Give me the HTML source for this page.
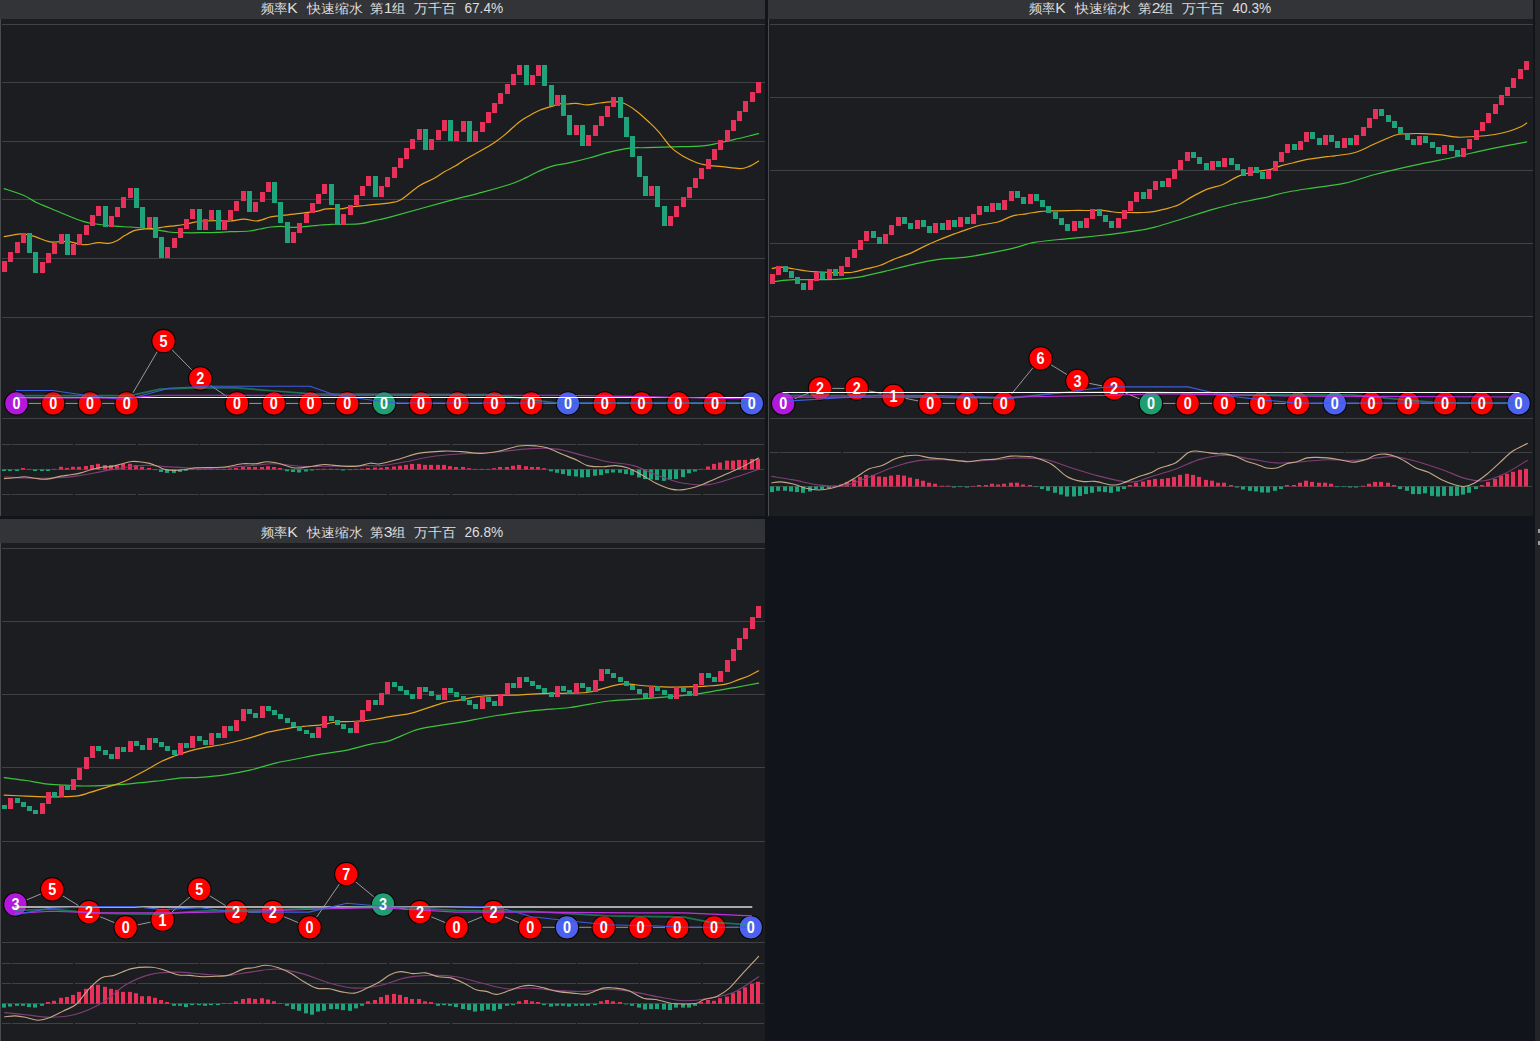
<!DOCTYPE html>
<html><head><meta charset="utf-8"><style>html,body{margin:0;padding:0;background:#11151b;width:1540px;height:1041px;overflow:hidden}svg{display:block}</style></head>
<body><svg width="1540" height="1041" viewBox="0 0 1540 1041">
<style>text{font-family:"Liberation Sans",sans-serif;font-size:14px;fill:#ececec}.t{font-size:13.4px;fill:#dedede}.n{font-size:15.2px}.d{font-weight:bold;font-size:16.4px;fill:#fff;text-anchor:middle}</style>
<rect x="0.00" y="0.00" width="1540.00" height="1041.00" fill="#11151b"/>
<rect x="1535.00" y="0.00" width="5.00" height="1041.00" fill="#232428"/>
<rect x="0.00" y="0.00" width="765.00" height="516.00" fill="#1c1d21"/>
<rect x="0.00" y="0.00" width="765.00" height="19.00" fill="#333438"/>
<rect x="768.00" y="0.00" width="765.00" height="516.00" fill="#1c1d21"/>
<rect x="768.00" y="0.00" width="765.00" height="19.00" fill="#333438"/>
<rect x="0.00" y="519.00" width="765.00" height="522.00" fill="#1c1d21"/>
<rect x="0.00" y="519.00" width="765.00" height="24.00" fill="#333438"/>
<line x1="0.5" y1="19" x2="0.5" y2="516" stroke="#4a4b4f" stroke-width="1"/>
<line x1="768.5" y1="19" x2="768.5" y2="516" stroke="#4a4b4f" stroke-width="1"/>
<line x1="0.5" y1="543" x2="0.5" y2="1041" stroke="#4a4b4f" stroke-width="1"/>
<text class="t" x="260.5" y="13.3" textLength="37.3" lengthAdjust="spacingAndGlyphs">频率<tspan class="n">K</tspan></text>
<text class="t" x="306.5" y="13.3" textLength="56" lengthAdjust="spacingAndGlyphs">快速缩水</text>
<text class="t" x="370.2" y="13.3" textLength="35.8" lengthAdjust="spacingAndGlyphs">第<tspan class="n">1</tspan>组</text>
<text class="t" x="414.0" y="13.3" textLength="42" lengthAdjust="spacingAndGlyphs">万千百</text>
<text class="t" x="464.4" y="13.3" textLength="38.8" lengthAdjust="spacingAndGlyphs"><tspan class="n">67.4%</tspan></text>
<text class="t" x="1028.5" y="13.3" textLength="37.3" lengthAdjust="spacingAndGlyphs">频率<tspan class="n">K</tspan></text>
<text class="t" x="1074.5" y="13.3" textLength="56" lengthAdjust="spacingAndGlyphs">快速缩水</text>
<text class="t" x="1138.2" y="13.3" textLength="35.8" lengthAdjust="spacingAndGlyphs">第<tspan class="n">2</tspan>组</text>
<text class="t" x="1182.0" y="13.3" textLength="42" lengthAdjust="spacingAndGlyphs">万千百</text>
<text class="t" x="1232.4" y="13.3" textLength="38.8" lengthAdjust="spacingAndGlyphs"><tspan class="n">40.3%</tspan></text>
<text class="t" x="260.5" y="537.3" textLength="37.3" lengthAdjust="spacingAndGlyphs">频率<tspan class="n">K</tspan></text>
<text class="t" x="306.5" y="537.3" textLength="56" lengthAdjust="spacingAndGlyphs">快速缩水</text>
<text class="t" x="370.2" y="537.3" textLength="35.8" lengthAdjust="spacingAndGlyphs">第<tspan class="n">3</tspan>组</text>
<text class="t" x="414.0" y="537.3" textLength="42" lengthAdjust="spacingAndGlyphs">万千百</text>
<text class="t" x="464.4" y="537.3" textLength="38.8" lengthAdjust="spacingAndGlyphs"><tspan class="n">26.8%</tspan></text>
<line x1="2" y1="24.5" x2="765" y2="24.5" stroke="#404145" stroke-width="1" shape-rendering="crispEdges"/>
<line x1="2" y1="82.5" x2="765" y2="82.5" stroke="#404145" stroke-width="1" shape-rendering="crispEdges"/>
<line x1="2" y1="141.5" x2="765" y2="141.5" stroke="#404145" stroke-width="1" shape-rendering="crispEdges"/>
<line x1="2" y1="199.5" x2="765" y2="199.5" stroke="#404145" stroke-width="1" shape-rendering="crispEdges"/>
<line x1="2" y1="258.5" x2="765" y2="258.5" stroke="#404145" stroke-width="1" shape-rendering="crispEdges"/>
<line x1="2" y1="317.5" x2="765" y2="317.5" stroke="#404145" stroke-width="1" shape-rendering="crispEdges"/>
<line x1="2" y1="418.5" x2="765" y2="418.5" stroke="#404145" stroke-width="1" shape-rendering="crispEdges"/>
<line x1="2" y1="444.5" x2="765" y2="444.5" stroke="#404145" stroke-width="1" stroke-dasharray="61.3 1.5" stroke-dashoffset="52.80" shape-rendering="crispEdges"/>
<line x1="2" y1="469.5" x2="765" y2="469.5" stroke="#404145" stroke-width="1" stroke-dasharray="61.3 1.5" stroke-dashoffset="52.80" shape-rendering="crispEdges"/>
<line x1="2" y1="494.5" x2="765" y2="494.5" stroke="#404145" stroke-width="1" stroke-dasharray="61.3 1.5" stroke-dashoffset="52.80" shape-rendering="crispEdges"/>
<path d="M4.2,188.6 C7.4,189.7 18.0,193.0 23.4,195.3 C28.8,197.6 31.6,200.2 36.4,202.5 C41.2,204.8 46.8,206.8 52.0,209.0 C57.2,211.2 62.3,213.4 67.5,215.5 C72.7,217.6 78.2,219.9 83.0,221.3 C87.8,222.7 90.8,223.2 96.0,224.0 C101.2,224.8 108.6,225.7 114.3,226.2 C120.0,226.7 125.1,226.7 129.9,227.0 C134.7,227.3 138.6,227.6 142.9,228.0 C147.2,228.4 151.5,229.0 155.8,229.7 C160.1,230.4 164.5,231.5 168.8,232.0 C173.1,232.5 176.6,232.6 181.8,232.7 C187.0,232.8 194.2,232.8 200.0,232.7 C205.8,232.6 211.8,232.6 216.9,232.4 C222.0,232.2 224.9,231.9 230.3,231.7 C235.7,231.5 244.2,231.4 249.2,231.0 C254.1,230.6 256.4,229.7 260.0,229.0 C263.6,228.3 267.1,227.4 270.7,227.0 C274.3,226.6 278.1,226.2 281.5,226.3 C284.9,226.4 287.1,227.2 290.9,227.3 C294.7,227.4 299.8,227.0 304.3,226.7 C308.8,226.4 313.3,225.7 317.8,225.3 C322.3,224.9 326.7,224.5 331.2,224.3 C335.7,224.1 339.8,224.4 344.7,224.3 C349.6,224.2 355.6,224.4 360.8,223.7 C366.0,223.0 370.7,221.4 375.6,220.3 C380.5,219.2 377.2,220.6 390.0,217.2 C402.8,213.8 437.8,203.7 452.4,199.8 C467.0,195.9 468.0,196.2 477.5,193.6 C487.0,191.0 501.4,187.2 509.5,184.5 C517.6,181.8 521.1,179.9 526.2,177.6 C531.3,175.3 535.6,172.6 540.2,170.6 C544.9,168.6 549.1,167.0 554.1,165.7 C559.1,164.4 564.2,164.0 570.0,162.7 C575.8,161.4 582.4,159.8 589.0,158.0 C595.6,156.2 602.7,153.8 609.6,152.1 C616.5,150.4 624.1,148.8 630.2,148.1 C636.3,147.4 639.2,147.9 646.1,147.7 C653.0,147.5 661.9,147.2 671.4,146.9 C680.9,146.6 695.2,146.5 703.1,145.8 C711.0,145.1 713.7,144.0 719.0,142.9 C724.3,141.8 728.2,140.9 734.8,139.4 C741.4,137.9 754.6,134.6 758.6,133.7" fill="none" stroke="#3cc43c" stroke-width="1.2" stroke-linejoin="round" stroke-linecap="round"/>
<path d="M4.2,236.6 C7.0,236.2 16.2,234.1 20.8,233.9 C25.4,233.7 27.3,234.3 31.8,235.6 C36.3,236.8 44.0,240.3 48.0,241.4 C52.0,242.5 52.5,242.0 55.8,242.0 C59.0,242.0 63.8,241.1 67.5,241.4 C71.2,241.7 75.0,243.2 78.0,243.8 C81.0,244.4 82.2,244.9 85.7,244.7 C89.2,244.5 94.8,242.9 98.7,242.7 C102.6,242.5 106.0,243.7 109.0,243.4 C112.0,243.1 114.3,242.1 116.9,240.8 C119.5,239.5 121.7,237.3 124.7,235.6 C127.7,233.9 131.5,231.5 135.0,230.4 C138.5,229.3 142.0,229.3 145.5,229.0 C149.0,228.7 152.8,228.7 155.8,228.4 C158.8,228.1 160.6,227.4 163.6,227.0 C166.6,226.6 170.5,226.2 174.0,225.8 C177.5,225.4 181.4,225.0 184.4,224.5 C187.4,224.0 189.0,223.2 192.2,222.6 C195.4,222.0 199.3,221.3 203.4,221.0 C207.5,220.7 212.4,220.6 216.9,220.6 C221.4,220.6 225.8,221.2 230.3,221.0 C234.8,220.8 239.5,219.2 243.8,219.2 C248.1,219.2 252.8,220.9 255.9,221.0 C259.0,221.1 260.1,220.3 262.6,219.6 C265.1,218.9 267.1,217.6 270.7,216.9 C274.3,216.2 278.4,215.9 284.0,215.2 C289.6,214.5 298.7,213.6 304.3,212.9 C309.9,212.2 314.4,211.7 317.8,211.1 C321.2,210.5 322.3,209.5 324.5,209.1 C326.7,208.7 328.5,208.6 331.2,208.6 C333.9,208.6 337.2,209.2 340.6,208.9 C344.0,208.6 347.4,207.4 351.4,206.8 C355.4,206.2 360.3,205.9 364.8,205.5 C369.3,205.1 374.1,204.5 378.3,204.1 C382.5,203.7 386.2,203.5 390.0,202.8 C393.8,202.1 396.1,202.6 400.9,199.8 C405.7,197.0 413.7,189.4 419.0,185.9 C424.3,182.4 428.7,181.3 432.9,179.0 C437.1,176.7 440.3,174.2 444.0,172.0 C447.7,169.8 451.9,168.0 455.2,166.1 C458.5,164.2 459.9,162.7 463.6,160.4 C467.3,158.1 472.4,155.4 477.5,152.5 C482.6,149.6 489.6,145.7 494.2,142.7 C498.8,139.7 501.1,137.9 505.3,134.4 C509.5,130.9 514.6,125.4 519.3,121.9 C523.9,118.4 529.7,115.5 533.2,113.5 C536.7,111.5 537.2,111.2 540.2,110.0 C543.2,108.8 547.8,107.5 551.3,106.5 C554.8,105.5 558.2,104.1 561.0,103.7 C563.8,103.3 565.5,104.1 568.0,104.0 C570.5,103.9 573.1,103.1 576.3,103.3 C579.5,103.5 583.4,105.0 587.4,104.9 C591.4,104.9 595.6,103.5 600.1,103.0 C604.6,102.5 610.4,101.7 614.4,101.7 C618.4,101.8 620.2,101.7 623.9,103.3 C627.6,104.9 632.4,108.0 636.6,111.2 C640.8,114.4 645.5,118.9 649.2,122.3 C652.9,125.7 655.0,127.6 658.7,131.8 C662.4,136.0 667.2,143.5 671.4,147.7 C675.6,151.9 679.9,154.3 684.1,156.8 C688.3,159.3 693.1,161.3 696.8,162.7 C700.5,164.1 702.1,164.4 706.3,165.1 C710.5,165.8 716.5,166.1 722.1,166.7 C727.7,167.3 735.1,168.6 739.6,168.6 C744.1,168.6 745.9,167.7 749.1,166.4 C752.3,165.2 757.0,162.0 758.6,161.1" fill="none" stroke="#e6a41c" stroke-width="1.2" stroke-linejoin="round" stroke-linecap="round"/>
<rect x="2.00" y="261.00" width="5.00" height="11.00" fill="#e8315a" shape-rendering="crispEdges"/>
<rect x="8.00" y="252.00" width="5.00" height="10.00" fill="#e8315a" shape-rendering="crispEdges"/>
<rect x="15.00" y="242.00" width="5.00" height="11.00" fill="#e8315a" shape-rendering="crispEdges"/>
<rect x="21.00" y="233.00" width="5.00" height="10.00" fill="#e8315a" shape-rendering="crispEdges"/>
<rect x="27.00" y="233.00" width="5.00" height="20.00" fill="#1fa37a" shape-rendering="crispEdges"/>
<rect x="33.00" y="252.00" width="5.00" height="21.00" fill="#1fa37a" shape-rendering="crispEdges"/>
<rect x="40.00" y="262.00" width="5.00" height="11.00" fill="#e8315a" shape-rendering="crispEdges"/>
<rect x="46.00" y="253.00" width="5.00" height="10.00" fill="#e8315a" shape-rendering="crispEdges"/>
<rect x="52.00" y="243.00" width="5.00" height="11.00" fill="#e8315a" shape-rendering="crispEdges"/>
<rect x="59.00" y="234.00" width="5.00" height="10.00" fill="#e8315a" shape-rendering="crispEdges"/>
<rect x="65.00" y="234.00" width="5.00" height="21.00" fill="#1fa37a" shape-rendering="crispEdges"/>
<rect x="71.00" y="244.00" width="5.00" height="11.00" fill="#e8315a" shape-rendering="crispEdges"/>
<rect x="77.00" y="234.00" width="5.00" height="11.00" fill="#e8315a" shape-rendering="crispEdges"/>
<rect x="84.00" y="225.00" width="5.00" height="10.00" fill="#e8315a" shape-rendering="crispEdges"/>
<rect x="90.00" y="215.00" width="5.00" height="11.00" fill="#e8315a" shape-rendering="crispEdges"/>
<rect x="96.00" y="206.00" width="5.00" height="10.00" fill="#e8315a" shape-rendering="crispEdges"/>
<rect x="103.00" y="206.00" width="5.00" height="21.00" fill="#1fa37a" shape-rendering="crispEdges"/>
<rect x="109.00" y="216.00" width="5.00" height="11.00" fill="#e8315a" shape-rendering="crispEdges"/>
<rect x="115.00" y="207.00" width="5.00" height="10.00" fill="#e8315a" shape-rendering="crispEdges"/>
<rect x="121.00" y="197.00" width="5.00" height="11.00" fill="#e8315a" shape-rendering="crispEdges"/>
<rect x="128.00" y="188.00" width="5.00" height="10.00" fill="#e8315a" shape-rendering="crispEdges"/>
<rect x="134.00" y="188.00" width="5.00" height="20.00" fill="#1fa37a" shape-rendering="crispEdges"/>
<rect x="140.00" y="207.00" width="5.00" height="21.00" fill="#1fa37a" shape-rendering="crispEdges"/>
<rect x="147.00" y="217.00" width="5.00" height="11.00" fill="#e8315a" shape-rendering="crispEdges"/>
<rect x="153.00" y="217.00" width="5.00" height="21.00" fill="#1fa37a" shape-rendering="crispEdges"/>
<rect x="159.00" y="237.00" width="5.00" height="21.00" fill="#1fa37a" shape-rendering="crispEdges"/>
<rect x="165.00" y="247.00" width="5.00" height="11.00" fill="#e8315a" shape-rendering="crispEdges"/>
<rect x="172.00" y="238.00" width="5.00" height="10.00" fill="#e8315a" shape-rendering="crispEdges"/>
<rect x="178.00" y="228.00" width="5.00" height="10.00" fill="#e8315a" shape-rendering="crispEdges"/>
<rect x="184.00" y="219.00" width="5.00" height="10.00" fill="#e8315a" shape-rendering="crispEdges"/>
<rect x="190.00" y="209.00" width="5.00" height="10.00" fill="#e8315a" shape-rendering="crispEdges"/>
<rect x="197.00" y="209.00" width="5.00" height="21.00" fill="#1fa37a" shape-rendering="crispEdges"/>
<rect x="203.00" y="219.00" width="5.00" height="11.00" fill="#e8315a" shape-rendering="crispEdges"/>
<rect x="209.00" y="210.00" width="5.00" height="10.00" fill="#e8315a" shape-rendering="crispEdges"/>
<rect x="216.00" y="210.00" width="5.00" height="20.00" fill="#1fa37a" shape-rendering="crispEdges"/>
<rect x="222.00" y="220.00" width="5.00" height="10.00" fill="#e8315a" shape-rendering="crispEdges"/>
<rect x="228.00" y="210.00" width="5.00" height="10.00" fill="#e8315a" shape-rendering="crispEdges"/>
<rect x="234.00" y="201.00" width="5.00" height="10.00" fill="#e8315a" shape-rendering="crispEdges"/>
<rect x="241.00" y="191.00" width="5.00" height="10.00" fill="#e8315a" shape-rendering="crispEdges"/>
<rect x="247.00" y="191.00" width="5.00" height="21.00" fill="#1fa37a" shape-rendering="crispEdges"/>
<rect x="253.00" y="202.00" width="5.00" height="10.00" fill="#e8315a" shape-rendering="crispEdges"/>
<rect x="260.00" y="192.00" width="5.00" height="10.00" fill="#e8315a" shape-rendering="crispEdges"/>
<rect x="266.00" y="182.00" width="5.00" height="10.00" fill="#e8315a" shape-rendering="crispEdges"/>
<rect x="272.00" y="182.00" width="5.00" height="21.00" fill="#1fa37a" shape-rendering="crispEdges"/>
<rect x="278.00" y="202.00" width="5.00" height="21.00" fill="#1fa37a" shape-rendering="crispEdges"/>
<rect x="285.00" y="222.00" width="5.00" height="21.00" fill="#1fa37a" shape-rendering="crispEdges"/>
<rect x="291.00" y="232.00" width="5.00" height="11.00" fill="#e8315a" shape-rendering="crispEdges"/>
<rect x="297.00" y="223.00" width="5.00" height="10.00" fill="#e8315a" shape-rendering="crispEdges"/>
<rect x="304.00" y="213.00" width="5.00" height="10.00" fill="#e8315a" shape-rendering="crispEdges"/>
<rect x="310.00" y="203.00" width="5.00" height="10.00" fill="#e8315a" shape-rendering="crispEdges"/>
<rect x="316.00" y="194.00" width="5.00" height="10.00" fill="#e8315a" shape-rendering="crispEdges"/>
<rect x="322.00" y="184.00" width="5.00" height="10.00" fill="#e8315a" shape-rendering="crispEdges"/>
<rect x="329.00" y="184.00" width="5.00" height="21.00" fill="#1fa37a" shape-rendering="crispEdges"/>
<rect x="335.00" y="204.00" width="5.00" height="21.00" fill="#1fa37a" shape-rendering="crispEdges"/>
<rect x="341.00" y="214.00" width="5.00" height="11.00" fill="#e8315a" shape-rendering="crispEdges"/>
<rect x="348.00" y="205.00" width="5.00" height="10.00" fill="#e8315a" shape-rendering="crispEdges"/>
<rect x="354.00" y="195.00" width="5.00" height="10.00" fill="#e8315a" shape-rendering="crispEdges"/>
<rect x="360.00" y="186.00" width="5.00" height="10.00" fill="#e8315a" shape-rendering="crispEdges"/>
<rect x="366.00" y="176.00" width="5.00" height="10.00" fill="#e8315a" shape-rendering="crispEdges"/>
<rect x="373.00" y="176.00" width="5.00" height="21.00" fill="#1fa37a" shape-rendering="crispEdges"/>
<rect x="379.00" y="186.00" width="5.00" height="11.00" fill="#e8315a" shape-rendering="crispEdges"/>
<rect x="385.00" y="177.00" width="5.00" height="10.00" fill="#e8315a" shape-rendering="crispEdges"/>
<rect x="392.00" y="167.00" width="5.00" height="11.00" fill="#e8315a" shape-rendering="crispEdges"/>
<rect x="398.00" y="158.00" width="5.00" height="10.00" fill="#e8315a" shape-rendering="crispEdges"/>
<rect x="404.00" y="148.00" width="5.00" height="11.00" fill="#e8315a" shape-rendering="crispEdges"/>
<rect x="410.00" y="139.00" width="5.00" height="10.00" fill="#e8315a" shape-rendering="crispEdges"/>
<rect x="417.00" y="129.00" width="5.00" height="11.00" fill="#e8315a" shape-rendering="crispEdges"/>
<rect x="423.00" y="129.00" width="5.00" height="21.00" fill="#1fa37a" shape-rendering="crispEdges"/>
<rect x="429.00" y="139.00" width="5.00" height="11.00" fill="#e8315a" shape-rendering="crispEdges"/>
<rect x="436.00" y="130.00" width="5.00" height="10.00" fill="#e8315a" shape-rendering="crispEdges"/>
<rect x="442.00" y="120.00" width="5.00" height="11.00" fill="#e8315a" shape-rendering="crispEdges"/>
<rect x="448.00" y="120.00" width="5.00" height="21.00" fill="#1fa37a" shape-rendering="crispEdges"/>
<rect x="454.00" y="131.00" width="5.00" height="10.00" fill="#e8315a" shape-rendering="crispEdges"/>
<rect x="461.00" y="121.00" width="5.00" height="11.00" fill="#e8315a" shape-rendering="crispEdges"/>
<rect x="467.00" y="121.00" width="5.00" height="21.00" fill="#1fa37a" shape-rendering="crispEdges"/>
<rect x="473.00" y="131.00" width="5.00" height="11.00" fill="#e8315a" shape-rendering="crispEdges"/>
<rect x="480.00" y="122.00" width="5.00" height="10.00" fill="#e8315a" shape-rendering="crispEdges"/>
<rect x="486.00" y="112.00" width="5.00" height="11.00" fill="#e8315a" shape-rendering="crispEdges"/>
<rect x="492.00" y="103.00" width="5.00" height="10.00" fill="#e8315a" shape-rendering="crispEdges"/>
<rect x="498.00" y="93.00" width="5.00" height="11.00" fill="#e8315a" shape-rendering="crispEdges"/>
<rect x="505.00" y="84.00" width="5.00" height="10.00" fill="#e8315a" shape-rendering="crispEdges"/>
<rect x="511.00" y="74.00" width="5.00" height="11.00" fill="#e8315a" shape-rendering="crispEdges"/>
<rect x="517.00" y="65.00" width="5.00" height="10.00" fill="#e8315a" shape-rendering="crispEdges"/>
<rect x="524.00" y="65.00" width="5.00" height="20.00" fill="#1fa37a" shape-rendering="crispEdges"/>
<rect x="530.00" y="75.00" width="5.00" height="10.00" fill="#e8315a" shape-rendering="crispEdges"/>
<rect x="536.00" y="65.00" width="5.00" height="11.00" fill="#e8315a" shape-rendering="crispEdges"/>
<rect x="542.00" y="65.00" width="5.00" height="21.00" fill="#1fa37a" shape-rendering="crispEdges"/>
<rect x="549.00" y="85.00" width="5.00" height="21.00" fill="#1fa37a" shape-rendering="crispEdges"/>
<rect x="555.00" y="95.00" width="5.00" height="11.00" fill="#e8315a" shape-rendering="crispEdges"/>
<rect x="561.00" y="95.00" width="5.00" height="21.00" fill="#1fa37a" shape-rendering="crispEdges"/>
<rect x="567.00" y="115.00" width="5.00" height="20.00" fill="#1fa37a" shape-rendering="crispEdges"/>
<rect x="574.00" y="125.00" width="5.00" height="10.00" fill="#e8315a" shape-rendering="crispEdges"/>
<rect x="580.00" y="125.00" width="5.00" height="21.00" fill="#1fa37a" shape-rendering="crispEdges"/>
<rect x="586.00" y="135.00" width="5.00" height="11.00" fill="#e8315a" shape-rendering="crispEdges"/>
<rect x="593.00" y="125.00" width="5.00" height="11.00" fill="#e8315a" shape-rendering="crispEdges"/>
<rect x="599.00" y="116.00" width="5.00" height="10.00" fill="#e8315a" shape-rendering="crispEdges"/>
<rect x="605.00" y="106.00" width="5.00" height="11.00" fill="#e8315a" shape-rendering="crispEdges"/>
<rect x="611.00" y="97.00" width="5.00" height="10.00" fill="#e8315a" shape-rendering="crispEdges"/>
<rect x="618.00" y="97.00" width="5.00" height="21.00" fill="#1fa37a" shape-rendering="crispEdges"/>
<rect x="624.00" y="117.00" width="5.00" height="20.00" fill="#1fa37a" shape-rendering="crispEdges"/>
<rect x="630.00" y="136.00" width="5.00" height="21.00" fill="#1fa37a" shape-rendering="crispEdges"/>
<rect x="637.00" y="156.00" width="5.00" height="21.00" fill="#1fa37a" shape-rendering="crispEdges"/>
<rect x="643.00" y="176.00" width="5.00" height="20.00" fill="#1fa37a" shape-rendering="crispEdges"/>
<rect x="649.00" y="186.00" width="5.00" height="10.00" fill="#e8315a" shape-rendering="crispEdges"/>
<rect x="655.00" y="186.00" width="5.00" height="21.00" fill="#1fa37a" shape-rendering="crispEdges"/>
<rect x="662.00" y="206.00" width="5.00" height="20.00" fill="#1fa37a" shape-rendering="crispEdges"/>
<rect x="668.00" y="216.00" width="5.00" height="10.00" fill="#e8315a" shape-rendering="crispEdges"/>
<rect x="674.00" y="206.00" width="5.00" height="11.00" fill="#e8315a" shape-rendering="crispEdges"/>
<rect x="681.00" y="197.00" width="5.00" height="10.00" fill="#e8315a" shape-rendering="crispEdges"/>
<rect x="687.00" y="187.00" width="5.00" height="11.00" fill="#e8315a" shape-rendering="crispEdges"/>
<rect x="693.00" y="178.00" width="5.00" height="10.00" fill="#e8315a" shape-rendering="crispEdges"/>
<rect x="699.00" y="168.00" width="5.00" height="11.00" fill="#e8315a" shape-rendering="crispEdges"/>
<rect x="706.00" y="159.00" width="5.00" height="10.00" fill="#e8315a" shape-rendering="crispEdges"/>
<rect x="712.00" y="149.00" width="5.00" height="11.00" fill="#e8315a" shape-rendering="crispEdges"/>
<rect x="718.00" y="140.00" width="5.00" height="10.00" fill="#e8315a" shape-rendering="crispEdges"/>
<rect x="725.00" y="130.00" width="5.00" height="11.00" fill="#e8315a" shape-rendering="crispEdges"/>
<rect x="731.00" y="120.00" width="5.00" height="11.00" fill="#e8315a" shape-rendering="crispEdges"/>
<rect x="737.00" y="111.00" width="5.00" height="10.00" fill="#e8315a" shape-rendering="crispEdges"/>
<rect x="743.00" y="101.00" width="5.00" height="11.00" fill="#e8315a" shape-rendering="crispEdges"/>
<rect x="750.00" y="92.00" width="5.00" height="10.00" fill="#e8315a" shape-rendering="crispEdges"/>
<rect x="756.00" y="82.00" width="5.00" height="11.00" fill="#e8315a" shape-rendering="crispEdges"/>
<polyline points="16.4,403.4 53.2,403.4 89.9,403.4 126.7,403.4 163.5,341.1 200.3,378.5 237.0,403.4 273.8,403.4 310.6,403.4 347.3,403.4 384.1,403.4 420.9,403.4 457.6,403.4 494.4,403.4 531.2,403.4 568.0,403.4 604.7,403.4 641.5,403.4 678.3,403.4 715.0,403.4 751.8,403.4" fill="none" stroke="#9a9a9a" stroke-width="1" stroke-linejoin="round" stroke-linecap="round"/>
<circle cx="16.4" cy="403.4" r="11.7" fill="#b218dc" stroke="#080000" stroke-width="1.1"/>
<circle cx="53.2" cy="403.4" r="11.7" fill="#ff0000" stroke="#080000" stroke-width="1.1"/>
<circle cx="89.9" cy="403.4" r="11.7" fill="#ff0000" stroke="#080000" stroke-width="1.1"/>
<circle cx="126.7" cy="403.4" r="11.7" fill="#ff0000" stroke="#080000" stroke-width="1.1"/>
<circle cx="163.5" cy="341.1" r="11.7" fill="#ff0000" stroke="#080000" stroke-width="1.1"/>
<circle cx="200.3" cy="378.5" r="11.7" fill="#ff0000" stroke="#080000" stroke-width="1.1"/>
<circle cx="237.0" cy="403.4" r="11.7" fill="#ff0000" stroke="#080000" stroke-width="1.1"/>
<circle cx="273.8" cy="403.4" r="11.7" fill="#ff0000" stroke="#080000" stroke-width="1.1"/>
<circle cx="310.6" cy="403.4" r="11.7" fill="#ff0000" stroke="#080000" stroke-width="1.1"/>
<circle cx="347.3" cy="403.4" r="11.7" fill="#ff0000" stroke="#080000" stroke-width="1.1"/>
<circle cx="384.1" cy="403.4" r="11.7" fill="#1f9e72" stroke="#080000" stroke-width="1.1"/>
<circle cx="420.9" cy="403.4" r="11.7" fill="#ff0000" stroke="#080000" stroke-width="1.1"/>
<circle cx="457.6" cy="403.4" r="11.7" fill="#ff0000" stroke="#080000" stroke-width="1.1"/>
<circle cx="494.4" cy="403.4" r="11.7" fill="#ff0000" stroke="#080000" stroke-width="1.1"/>
<circle cx="531.2" cy="403.4" r="11.7" fill="#ff0000" stroke="#080000" stroke-width="1.1"/>
<circle cx="568.0" cy="403.4" r="11.7" fill="#4a62ee" stroke="#080000" stroke-width="1.1"/>
<circle cx="604.7" cy="403.4" r="11.7" fill="#ff0000" stroke="#080000" stroke-width="1.1"/>
<circle cx="641.5" cy="403.4" r="11.7" fill="#ff0000" stroke="#080000" stroke-width="1.1"/>
<circle cx="678.3" cy="403.4" r="11.7" fill="#ff0000" stroke="#080000" stroke-width="1.1"/>
<circle cx="715.0" cy="403.4" r="11.7" fill="#ff0000" stroke="#080000" stroke-width="1.1"/>
<circle cx="751.8" cy="403.4" r="11.7" fill="#4a62ee" stroke="#080000" stroke-width="1.1"/>
<polyline points="16.4,395.6 130.0,395.6 160.0,389.2 194.0,387.8 236.0,387.8 275.0,391.0 312.0,393.8 494.0,394.7 557.0,403.0 751.5,403.0" fill="none" stroke="#1f9c6e" stroke-width="1.7" stroke-linejoin="round" stroke-linecap="round" stroke-opacity="0.65"/>
<polyline points="16.4,390.5 52.3,390.5 84.0,395.0 125.0,400.0 169.0,388.3 207.0,386.2 310.0,386.2 335.0,395.0 385.0,402.0 400.0,403.0 751.5,403.0" fill="none" stroke="#3e5ce0" stroke-width="1.1" stroke-linejoin="round" stroke-linecap="round"/>
<polyline points="16.4,397.5 751.5,397.5" fill="none" stroke="#ffffff" stroke-width="1" stroke-linejoin="round" stroke-linecap="round"/>
<polyline points="16.4,397.9 130.0,397.9 160.0,395.2 560.0,395.3 630.0,396.4 751.5,399.0" fill="none" stroke="#c030e0" stroke-width="1.1" stroke-linejoin="round" stroke-linecap="round"/>
<text x="16.4" y="409.2" class="d" textLength="8" lengthAdjust="spacingAndGlyphs">0</text>
<text x="53.2" y="409.2" class="d" textLength="8" lengthAdjust="spacingAndGlyphs">0</text>
<text x="89.9" y="409.2" class="d" textLength="8" lengthAdjust="spacingAndGlyphs">0</text>
<text x="126.7" y="409.2" class="d" textLength="8" lengthAdjust="spacingAndGlyphs">0</text>
<text x="163.5" y="346.9" class="d" textLength="8" lengthAdjust="spacingAndGlyphs">5</text>
<text x="200.3" y="384.3" class="d" textLength="8" lengthAdjust="spacingAndGlyphs">2</text>
<text x="237.0" y="409.2" class="d" textLength="8" lengthAdjust="spacingAndGlyphs">0</text>
<text x="273.8" y="409.2" class="d" textLength="8" lengthAdjust="spacingAndGlyphs">0</text>
<text x="310.6" y="409.2" class="d" textLength="8" lengthAdjust="spacingAndGlyphs">0</text>
<text x="347.3" y="409.2" class="d" textLength="8" lengthAdjust="spacingAndGlyphs">0</text>
<text x="384.1" y="409.2" class="d" textLength="8" lengthAdjust="spacingAndGlyphs">0</text>
<text x="420.9" y="409.2" class="d" textLength="8" lengthAdjust="spacingAndGlyphs">0</text>
<text x="457.6" y="409.2" class="d" textLength="8" lengthAdjust="spacingAndGlyphs">0</text>
<text x="494.4" y="409.2" class="d" textLength="8" lengthAdjust="spacingAndGlyphs">0</text>
<text x="531.2" y="409.2" class="d" textLength="8" lengthAdjust="spacingAndGlyphs">0</text>
<text x="568.0" y="409.2" class="d" textLength="8" lengthAdjust="spacingAndGlyphs">0</text>
<text x="604.7" y="409.2" class="d" textLength="8" lengthAdjust="spacingAndGlyphs">0</text>
<text x="641.5" y="409.2" class="d" textLength="8" lengthAdjust="spacingAndGlyphs">0</text>
<text x="678.3" y="409.2" class="d" textLength="8" lengthAdjust="spacingAndGlyphs">0</text>
<text x="715.0" y="409.2" class="d" textLength="8" lengthAdjust="spacingAndGlyphs">0</text>
<text x="751.8" y="409.2" class="d" textLength="8" lengthAdjust="spacingAndGlyphs">0</text>
<rect x="2.00" y="469.50" width="4.00" height="1.50" fill="#1fa37a"/>
<rect x="8.00" y="469.50" width="4.00" height="1.50" fill="#1fa37a"/>
<rect x="15.00" y="469.50" width="4.00" height="1.50" fill="#1fa37a"/>
<rect x="21.00" y="468.00" width="4.00" height="1.50" fill="#e8315a"/>
<rect x="27.00" y="468.90" width="4.00" height="0.60" fill="#e8315a"/>
<rect x="33.00" y="469.50" width="4.00" height="1.50" fill="#1fa37a"/>
<rect x="40.00" y="469.50" width="4.00" height="1.50" fill="#1fa37a"/>
<rect x="46.00" y="469.50" width="4.00" height="1.50" fill="#1fa37a"/>
<rect x="52.00" y="468.90" width="4.00" height="0.60" fill="#e8315a"/>
<rect x="59.00" y="466.80" width="4.00" height="2.70" fill="#e8315a"/>
<rect x="65.00" y="467.90" width="4.00" height="1.60" fill="#e8315a"/>
<rect x="71.00" y="466.80" width="4.00" height="2.70" fill="#e8315a"/>
<rect x="77.00" y="466.80" width="4.00" height="2.70" fill="#e8315a"/>
<rect x="84.00" y="466.00" width="4.00" height="3.50" fill="#e8315a"/>
<rect x="90.00" y="465.00" width="4.00" height="4.50" fill="#e8315a"/>
<rect x="96.00" y="463.80" width="4.00" height="5.70" fill="#e8315a"/>
<rect x="103.00" y="465.00" width="4.00" height="4.50" fill="#e8315a"/>
<rect x="109.00" y="465.00" width="4.00" height="4.50" fill="#e8315a"/>
<rect x="115.00" y="466.00" width="4.00" height="3.50" fill="#e8315a"/>
<rect x="121.00" y="464.00" width="4.00" height="5.50" fill="#e8315a"/>
<rect x="128.00" y="463.80" width="4.00" height="5.70" fill="#e8315a"/>
<rect x="134.00" y="465.00" width="4.00" height="4.50" fill="#e8315a"/>
<rect x="140.00" y="466.80" width="4.00" height="2.70" fill="#e8315a"/>
<rect x="147.00" y="467.90" width="4.00" height="1.60" fill="#e8315a"/>
<rect x="153.00" y="469.50" width="4.00" height="0.60" fill="#1fa37a"/>
<rect x="159.00" y="469.50" width="4.00" height="2.50" fill="#1fa37a"/>
<rect x="165.00" y="469.50" width="4.00" height="3.40" fill="#1fa37a"/>
<rect x="172.00" y="469.50" width="4.00" height="3.40" fill="#1fa37a"/>
<rect x="178.00" y="469.50" width="4.00" height="2.40" fill="#1fa37a"/>
<rect x="184.00" y="469.50" width="4.00" height="1.30" fill="#1fa37a"/>
<rect x="190.00" y="468.90" width="4.00" height="0.60" fill="#e8315a"/>
<rect x="197.00" y="469.50" width="4.00" height="0.60" fill="#1fa37a"/>
<rect x="203.00" y="468.90" width="4.00" height="0.60" fill="#e8315a"/>
<rect x="209.00" y="468.90" width="4.00" height="0.60" fill="#e8315a"/>
<rect x="216.00" y="468.90" width="4.00" height="0.60" fill="#e8315a"/>
<rect x="222.00" y="468.90" width="4.00" height="0.60" fill="#e8315a"/>
<rect x="228.00" y="468.50" width="4.00" height="1.00" fill="#e8315a"/>
<rect x="234.00" y="468.00" width="4.00" height="1.50" fill="#e8315a"/>
<rect x="241.00" y="467.00" width="4.00" height="2.50" fill="#e8315a"/>
<rect x="247.00" y="467.00" width="4.00" height="2.50" fill="#e8315a"/>
<rect x="253.00" y="467.00" width="4.00" height="2.50" fill="#e8315a"/>
<rect x="260.00" y="467.00" width="4.00" height="2.50" fill="#e8315a"/>
<rect x="266.00" y="466.25" width="4.00" height="3.25" fill="#e8315a"/>
<rect x="272.00" y="467.00" width="4.00" height="2.50" fill="#e8315a"/>
<rect x="278.00" y="468.00" width="4.00" height="1.50" fill="#e8315a"/>
<rect x="285.00" y="469.50" width="4.00" height="1.75" fill="#1fa37a"/>
<rect x="291.00" y="469.50" width="4.00" height="2.50" fill="#1fa37a"/>
<rect x="297.00" y="469.50" width="4.00" height="3.00" fill="#1fa37a"/>
<rect x="304.00" y="469.50" width="4.00" height="2.00" fill="#1fa37a"/>
<rect x="310.00" y="469.50" width="4.00" height="1.00" fill="#1fa37a"/>
<rect x="316.00" y="468.90" width="4.00" height="0.60" fill="#e8315a"/>
<rect x="322.00" y="468.75" width="4.00" height="0.75" fill="#e8315a"/>
<rect x="329.00" y="468.75" width="4.00" height="0.75" fill="#e8315a"/>
<rect x="335.00" y="468.90" width="4.00" height="0.60" fill="#e8315a"/>
<rect x="341.00" y="469.50" width="4.00" height="1.00" fill="#1fa37a"/>
<rect x="348.00" y="469.50" width="4.00" height="0.60" fill="#1fa37a"/>
<rect x="354.00" y="468.90" width="4.00" height="0.60" fill="#e8315a"/>
<rect x="360.00" y="468.75" width="4.00" height="0.75" fill="#e8315a"/>
<rect x="366.00" y="468.00" width="4.00" height="1.50" fill="#e8315a"/>
<rect x="373.00" y="467.50" width="4.00" height="2.00" fill="#e8315a"/>
<rect x="379.00" y="467.70" width="4.00" height="1.80" fill="#e8315a"/>
<rect x="385.00" y="467.00" width="4.00" height="2.50" fill="#e8315a"/>
<rect x="392.00" y="466.50" width="4.00" height="3.00" fill="#e8315a"/>
<rect x="398.00" y="465.70" width="4.00" height="3.80" fill="#e8315a"/>
<rect x="404.00" y="464.90" width="4.00" height="4.60" fill="#e8315a"/>
<rect x="410.00" y="463.90" width="4.00" height="5.60" fill="#e8315a"/>
<rect x="417.00" y="463.90" width="4.00" height="5.60" fill="#e8315a"/>
<rect x="423.00" y="464.90" width="4.00" height="4.60" fill="#e8315a"/>
<rect x="429.00" y="464.90" width="4.00" height="4.60" fill="#e8315a"/>
<rect x="436.00" y="464.90" width="4.00" height="4.60" fill="#e8315a"/>
<rect x="442.00" y="464.90" width="4.00" height="4.60" fill="#e8315a"/>
<rect x="448.00" y="466.20" width="4.00" height="3.30" fill="#e8315a"/>
<rect x="454.00" y="467.00" width="4.00" height="2.50" fill="#e8315a"/>
<rect x="461.00" y="467.00" width="4.00" height="2.50" fill="#e8315a"/>
<rect x="467.00" y="468.20" width="4.00" height="1.30" fill="#e8315a"/>
<rect x="473.00" y="468.90" width="4.00" height="0.60" fill="#e8315a"/>
<rect x="480.00" y="468.90" width="4.00" height="0.60" fill="#e8315a"/>
<rect x="486.00" y="468.90" width="4.00" height="0.60" fill="#e8315a"/>
<rect x="492.00" y="468.20" width="4.00" height="1.30" fill="#e8315a"/>
<rect x="498.00" y="467.00" width="4.00" height="2.50" fill="#e8315a"/>
<rect x="505.00" y="467.00" width="4.00" height="2.50" fill="#e8315a"/>
<rect x="511.00" y="465.70" width="4.00" height="3.80" fill="#e8315a"/>
<rect x="517.00" y="464.90" width="4.00" height="4.60" fill="#e8315a"/>
<rect x="524.00" y="466.20" width="4.00" height="3.30" fill="#e8315a"/>
<rect x="530.00" y="467.00" width="4.00" height="2.50" fill="#e8315a"/>
<rect x="536.00" y="467.00" width="4.00" height="2.50" fill="#e8315a"/>
<rect x="542.00" y="468.20" width="4.00" height="1.30" fill="#e8315a"/>
<rect x="549.00" y="469.50" width="4.00" height="1.80" fill="#1fa37a"/>
<rect x="555.00" y="469.50" width="4.00" height="3.30" fill="#1fa37a"/>
<rect x="561.00" y="469.50" width="4.00" height="4.60" fill="#1fa37a"/>
<rect x="567.00" y="469.50" width="4.00" height="6.30" fill="#1fa37a"/>
<rect x="574.00" y="469.50" width="4.00" height="7.00" fill="#1fa37a"/>
<rect x="580.00" y="469.50" width="4.00" height="8.00" fill="#1fa37a"/>
<rect x="586.00" y="469.50" width="4.00" height="7.60" fill="#1fa37a"/>
<rect x="593.00" y="469.50" width="4.00" height="6.30" fill="#1fa37a"/>
<rect x="599.00" y="469.50" width="4.00" height="5.60" fill="#1fa37a"/>
<rect x="605.00" y="469.50" width="4.00" height="3.80" fill="#1fa37a"/>
<rect x="611.00" y="469.50" width="4.00" height="3.00" fill="#1fa37a"/>
<rect x="618.00" y="469.50" width="4.00" height="3.30" fill="#1fa37a"/>
<rect x="624.00" y="469.50" width="4.00" height="4.60" fill="#1fa37a"/>
<rect x="630.00" y="469.50" width="4.00" height="5.60" fill="#1fa37a"/>
<rect x="637.00" y="469.50" width="4.00" height="8.00" fill="#1fa37a"/>
<rect x="643.00" y="469.50" width="4.00" height="9.60" fill="#1fa37a"/>
<rect x="649.00" y="469.50" width="4.00" height="10.00" fill="#1fa37a"/>
<rect x="655.00" y="469.50" width="4.00" height="10.60" fill="#1fa37a"/>
<rect x="662.00" y="469.50" width="4.00" height="11.40" fill="#1fa37a"/>
<rect x="668.00" y="469.50" width="4.00" height="10.00" fill="#1fa37a"/>
<rect x="674.00" y="469.50" width="4.00" height="9.60" fill="#1fa37a"/>
<rect x="681.00" y="469.50" width="4.00" height="7.60" fill="#1fa37a"/>
<rect x="687.00" y="469.50" width="4.00" height="3.80" fill="#1fa37a"/>
<rect x="693.00" y="469.50" width="4.00" height="2.00" fill="#1fa37a"/>
<rect x="699.00" y="468.90" width="4.00" height="0.60" fill="#e8315a"/>
<rect x="706.00" y="466.50" width="4.00" height="3.00" fill="#e8315a"/>
<rect x="712.00" y="463.90" width="4.00" height="5.60" fill="#e8315a"/>
<rect x="718.00" y="462.50" width="4.00" height="7.00" fill="#e8315a"/>
<rect x="725.00" y="460.60" width="4.00" height="8.90" fill="#e8315a"/>
<rect x="731.00" y="460.60" width="4.00" height="8.90" fill="#e8315a"/>
<rect x="737.00" y="459.90" width="4.00" height="9.60" fill="#e8315a"/>
<rect x="743.00" y="459.90" width="4.00" height="9.60" fill="#e8315a"/>
<rect x="750.00" y="458.90" width="4.00" height="10.60" fill="#e8315a"/>
<rect x="756.00" y="458.90" width="4.00" height="10.60" fill="#e8315a"/>
<path d="M4.4,477.0 C7.9,477.2 17.6,477.8 25.3,478.0 C33.0,478.2 42.2,478.3 50.6,478.0 C59.0,477.7 67.5,477.2 75.9,476.1 C84.4,475.0 92.8,473.1 101.3,471.6 C109.8,470.1 119.2,468.2 126.6,467.2 C134.0,466.1 139.3,465.4 145.6,465.3 C151.9,465.2 158.3,466.2 164.6,466.6 C170.9,467.0 177.6,467.2 183.5,467.6 C189.4,468.0 193.1,468.8 200.0,468.8 C206.9,468.7 216.7,468.0 225.0,467.5 C233.3,467.0 241.7,466.4 250.0,465.8 C258.3,465.1 266.7,463.7 275.0,463.8 C283.3,463.8 291.7,465.8 300.0,466.2 C308.3,466.7 316.7,466.4 325.0,466.2 C333.3,466.1 340.8,465.6 350.0,465.5 C359.2,465.4 370.8,466.2 380.0,465.6 C389.2,465.0 396.9,463.3 405.3,461.8 C413.7,460.3 422.2,458.0 430.6,456.7 C439.0,455.4 445.3,454.9 455.9,454.2 C466.4,453.4 481.2,453.1 493.9,452.2 C506.6,451.3 521.3,449.1 531.9,448.6 C542.5,448.1 548.8,448.0 557.2,449.1 C565.6,450.2 574.1,453.3 582.5,455.4 C590.9,457.5 599.3,460.1 607.8,461.8 C616.2,463.5 624.8,463.3 633.2,465.6 C641.7,467.9 650.1,472.8 658.5,475.7 C666.9,478.6 675.4,481.8 683.8,483.3 C692.2,484.8 700.7,485.6 709.1,484.6 C717.5,483.6 726.2,480.0 734.4,477.5 C742.6,475.0 754.5,470.8 758.5,469.4" fill="none" stroke="#7f3e76" stroke-width="1.1" stroke-linejoin="round" stroke-linecap="round"/>
<path d="M4.4,478.6 C5.8,478.5 9.4,478.3 12.7,478.0 C16.0,477.7 20.9,476.8 24.0,476.7 C27.1,476.6 28.6,477.3 31.6,477.7 C34.6,478.1 38.6,479.0 41.8,479.2 C45.0,479.4 47.4,479.1 50.6,478.6 C53.8,478.1 57.4,476.7 60.8,476.1 C64.2,475.5 67.5,475.3 70.9,474.8 C74.3,474.3 77.6,473.8 81.0,472.9 C84.4,472.0 87.7,470.6 91.1,469.7 C94.5,468.8 97.9,467.7 101.3,467.2 C104.7,466.7 108.0,467.1 111.4,466.6 C114.8,466.1 118.1,464.9 121.5,464.0 C124.9,463.1 128.7,461.9 131.6,461.5 C134.5,461.1 136.2,461.5 139.2,461.8 C142.2,462.1 146.2,462.6 149.4,463.4 C152.6,464.2 155.7,465.6 158.2,466.6 C160.7,467.6 161.8,468.8 164.6,469.4 C167.3,470.0 171.5,470.3 174.7,470.4 C177.8,470.4 180.1,470.1 183.5,469.7 C186.9,469.3 190.2,468.2 195.0,467.8 C199.8,467.4 207.5,467.6 212.5,467.5 C217.5,467.4 220.0,467.6 225.0,467.0 C230.0,466.4 237.5,464.3 242.5,463.8 C247.5,463.2 250.8,464.1 255.0,463.8 C259.2,463.4 263.3,461.8 267.5,461.8 C271.7,461.8 275.4,462.7 280.0,463.8 C284.6,464.8 289.6,467.6 295.0,468.0 C300.4,468.4 307.5,466.8 312.5,466.2 C317.5,465.7 320.0,464.5 325.0,464.5 C330.0,464.5 337.1,466.0 342.5,466.2 C347.9,466.5 352.9,466.8 357.5,466.2 C362.1,465.8 366.2,463.7 370.0,463.2 C373.8,462.8 374.9,464.6 380.0,463.8 C385.1,463.0 394.0,460.4 400.3,458.7 C406.6,457.0 410.8,454.7 418.0,453.4 C425.2,452.1 436.1,451.4 443.3,451.1 C450.5,450.8 454.7,451.2 461.0,451.6 C467.3,452.0 475.0,453.5 481.3,453.4 C487.6,453.3 492.7,452.3 499.0,451.1 C505.3,449.9 512.9,446.9 519.2,446.0 C525.5,445.1 532.4,445.7 537.0,446.0 C541.6,446.3 542.8,446.4 547.0,447.8 C551.2,449.2 557.2,452.1 562.3,454.2 C567.4,456.3 573.3,458.6 577.5,460.5 C581.7,462.4 583.4,464.6 587.6,465.6 C591.8,466.7 598.2,466.8 602.8,466.8 C607.4,466.8 611.2,465.4 615.4,465.6 C619.6,465.8 623.5,466.4 628.1,468.1 C632.8,469.8 638.6,473.2 643.3,475.7 C647.9,478.2 651.4,481.1 656.0,483.3 C660.6,485.5 666.5,488.1 671.1,489.1 C675.7,490.2 679.1,490.2 683.8,489.6 C688.4,489.1 693.5,487.7 699.0,485.8 C704.5,483.9 710.8,480.7 716.7,478.2 C722.6,475.7 728.9,473.1 734.4,470.6 C739.9,468.1 745.6,465.1 749.6,463.0 C753.6,460.9 757.0,458.8 758.5,458.0" fill="none" stroke="#c4a886" stroke-width="1.1" stroke-linejoin="round" stroke-linecap="round"/>
<line x1="770" y1="24.5" x2="1533" y2="24.5" stroke="#404145" stroke-width="1" shape-rendering="crispEdges"/>
<line x1="770" y1="97.5" x2="1533" y2="97.5" stroke="#404145" stroke-width="1" shape-rendering="crispEdges"/>
<line x1="770" y1="170.5" x2="1533" y2="170.5" stroke="#404145" stroke-width="1" shape-rendering="crispEdges"/>
<line x1="770" y1="243.5" x2="1533" y2="243.5" stroke="#404145" stroke-width="1" shape-rendering="crispEdges"/>
<line x1="770" y1="316.5" x2="1533" y2="316.5" stroke="#404145" stroke-width="1" shape-rendering="crispEdges"/>
<line x1="770" y1="418.5" x2="1533" y2="418.5" stroke="#404145" stroke-width="1" shape-rendering="crispEdges"/>
<line x1="770" y1="452.5" x2="1533" y2="452.5" stroke="#404145" stroke-width="1" stroke-dasharray="61.3 1.5" stroke-dashoffset="52.80" shape-rendering="crispEdges"/>
<line x1="770" y1="486.5" x2="1533" y2="486.5" stroke="#404145" stroke-width="1" stroke-dasharray="61.3 1.5" stroke-dashoffset="52.80" shape-rendering="crispEdges"/>
<path d="M775.1,281.4 C778.2,281.1 786.5,280.0 794.0,279.7 C801.5,279.4 812.4,279.8 820.0,279.7 C827.6,279.6 832.9,279.5 839.4,279.1 C845.9,278.7 851.3,278.4 858.9,277.1 C866.5,275.8 876.2,273.4 884.9,271.3 C893.6,269.2 902.2,266.8 910.9,264.8 C919.5,262.9 927.3,260.9 936.8,259.6 C946.3,258.3 955.9,258.5 968.0,256.8 C980.1,255.1 998.7,251.5 1009.5,249.2 C1020.3,246.8 1024.7,244.3 1032.9,242.7 C1041.1,241.1 1050.2,240.4 1058.9,239.5 C1067.6,238.6 1076.2,238.0 1084.9,237.1 C1093.6,236.2 1103.2,235.2 1110.8,234.3 C1118.4,233.4 1122.9,232.9 1130.3,231.7 C1137.7,230.5 1141.1,230.8 1155.0,227.1 C1168.9,223.3 1200.3,213.1 1213.8,209.2 C1227.3,205.2 1227.9,205.2 1235.9,203.4 C1243.9,201.6 1253.2,200.1 1261.9,198.2 C1270.6,196.3 1279.2,193.7 1287.9,192.0 C1296.6,190.3 1304.3,189.3 1313.8,187.8 C1323.3,186.3 1334.8,185.4 1345.0,183.2 C1355.2,181.0 1363.2,177.5 1374.9,174.5 C1386.6,171.5 1401.6,168.0 1414.9,165.1 C1428.2,162.2 1443.7,159.4 1454.8,157.0 C1465.9,154.6 1472.5,152.8 1481.4,150.8 C1490.3,148.9 1500.5,146.8 1508.1,145.3 C1515.6,143.8 1523.6,142.5 1526.7,141.9" fill="none" stroke="#3cc43c" stroke-width="1.2" stroke-linejoin="round" stroke-linecap="round"/>
<path d="M772.2,268.4 C773.7,268.2 777.4,267.0 781.0,267.1 C784.6,267.2 789.7,268.4 794.0,269.0 C798.3,269.6 802.7,270.5 807.0,271.0 C811.3,271.5 815.7,271.7 820.0,272.0 C824.3,272.3 828.7,272.5 833.0,272.6 C837.3,272.7 842.5,272.7 846.0,272.6 C849.5,272.5 850.2,272.6 853.7,272.0 C857.2,271.4 862.4,269.8 866.7,268.7 C871.0,267.6 875.8,266.8 879.7,265.5 C883.6,264.2 887.0,262.3 890.0,261.0 C893.0,259.7 894.4,259.0 897.9,257.7 C901.4,256.4 906.6,254.9 910.9,253.1 C915.2,251.2 919.5,248.6 923.8,246.6 C928.1,244.6 932.5,242.6 936.8,240.8 C941.1,239.0 944.6,237.6 949.8,235.6 C955.0,233.6 962.8,230.9 968.0,229.1 C973.2,227.3 976.0,226.2 981.0,225.0 C986.0,223.8 992.7,223.5 997.9,222.0 C1003.1,220.5 1007.4,217.5 1012.1,216.1 C1016.9,214.7 1021.9,214.6 1026.4,213.8 C1031.0,213.1 1035.3,212.1 1039.4,211.6 C1043.5,211.1 1045.7,211.1 1051.1,210.9 C1056.5,210.7 1065.4,210.6 1071.9,210.5 C1078.4,210.4 1085.0,210.5 1090.0,210.5 C1095.0,210.5 1098.3,210.1 1101.8,210.3 C1105.3,210.5 1108.0,211.2 1110.8,211.6 C1113.6,212.0 1115.3,212.3 1118.6,212.5 C1121.8,212.7 1126.2,212.5 1130.3,212.5 C1134.4,212.5 1139.2,212.7 1143.3,212.5 C1147.4,212.3 1151.5,211.9 1155.0,211.3 C1158.5,210.8 1160.5,210.3 1164.5,209.2 C1168.5,208.1 1174.2,206.8 1178.8,204.7 C1183.3,202.6 1187.0,199.5 1191.8,196.9 C1196.5,194.3 1202.1,191.2 1207.3,189.1 C1212.5,187.0 1217.7,186.7 1222.9,184.5 C1228.1,182.3 1233.1,178.2 1238.5,176.1 C1243.9,173.9 1250.2,172.7 1255.4,171.6 C1260.6,170.5 1265.4,170.6 1269.7,169.6 C1274.0,168.6 1277.3,166.9 1281.4,165.7 C1285.5,164.5 1289.9,163.6 1294.4,162.5 C1298.9,161.4 1303.2,160.2 1308.6,159.2 C1314.0,158.2 1322.4,157.2 1326.8,156.6 C1331.2,156.0 1330.3,156.5 1335.0,155.8 C1339.7,155.1 1348.3,154.5 1355.0,152.5 C1361.7,150.5 1368.2,146.7 1374.9,143.8 C1381.6,140.9 1389.8,136.8 1394.9,135.2 C1400.0,133.5 1401.2,134.2 1405.6,133.9 C1410.0,133.6 1415.5,133.4 1421.5,133.6 C1427.5,133.8 1435.5,134.3 1441.5,134.9 C1447.5,135.5 1452.0,136.9 1457.5,137.2 C1463.0,137.5 1468.6,136.9 1474.8,136.5 C1481.0,136.1 1489.2,135.3 1494.7,134.5 C1500.2,133.7 1503.6,132.8 1508.1,131.5 C1512.5,130.2 1518.3,127.9 1521.4,126.5 C1524.5,125.1 1525.8,123.6 1526.7,123.0" fill="none" stroke="#e6a41c" stroke-width="1.2" stroke-linejoin="round" stroke-linecap="round"/>
<rect x="770.00" y="274.00" width="5.00" height="10.00" fill="#e8315a" shape-rendering="crispEdges"/>
<rect x="776.00" y="266.00" width="5.00" height="9.00" fill="#e8315a" shape-rendering="crispEdges"/>
<rect x="783.00" y="266.00" width="5.00" height="6.00" fill="#1fa37a" shape-rendering="crispEdges"/>
<rect x="789.00" y="271.00" width="5.00" height="7.00" fill="#1fa37a" shape-rendering="crispEdges"/>
<rect x="795.00" y="277.00" width="5.00" height="7.00" fill="#1fa37a" shape-rendering="crispEdges"/>
<rect x="801.00" y="283.00" width="5.00" height="7.00" fill="#1fa37a" shape-rendering="crispEdges"/>
<rect x="808.00" y="280.00" width="5.00" height="10.00" fill="#e8315a" shape-rendering="crispEdges"/>
<rect x="814.00" y="272.00" width="5.00" height="9.00" fill="#e8315a" shape-rendering="crispEdges"/>
<rect x="820.00" y="272.00" width="5.00" height="7.00" fill="#1fa37a" shape-rendering="crispEdges"/>
<rect x="827.00" y="269.00" width="5.00" height="10.00" fill="#e8315a" shape-rendering="crispEdges"/>
<rect x="833.00" y="269.00" width="5.00" height="7.00" fill="#1fa37a" shape-rendering="crispEdges"/>
<rect x="839.00" y="266.00" width="5.00" height="10.00" fill="#e8315a" shape-rendering="crispEdges"/>
<rect x="845.00" y="257.00" width="5.00" height="10.00" fill="#e8315a" shape-rendering="crispEdges"/>
<rect x="852.00" y="249.00" width="5.00" height="9.00" fill="#e8315a" shape-rendering="crispEdges"/>
<rect x="858.00" y="240.00" width="5.00" height="10.00" fill="#e8315a" shape-rendering="crispEdges"/>
<rect x="864.00" y="231.00" width="5.00" height="10.00" fill="#e8315a" shape-rendering="crispEdges"/>
<rect x="871.00" y="231.00" width="5.00" height="7.00" fill="#1fa37a" shape-rendering="crispEdges"/>
<rect x="877.00" y="237.00" width="5.00" height="7.00" fill="#1fa37a" shape-rendering="crispEdges"/>
<rect x="883.00" y="234.00" width="5.00" height="10.00" fill="#e8315a" shape-rendering="crispEdges"/>
<rect x="889.00" y="225.00" width="5.00" height="10.00" fill="#e8315a" shape-rendering="crispEdges"/>
<rect x="896.00" y="217.00" width="5.00" height="9.00" fill="#e8315a" shape-rendering="crispEdges"/>
<rect x="902.00" y="217.00" width="5.00" height="7.00" fill="#1fa37a" shape-rendering="crispEdges"/>
<rect x="908.00" y="223.00" width="5.00" height="6.00" fill="#1fa37a" shape-rendering="crispEdges"/>
<rect x="915.00" y="220.00" width="5.00" height="9.00" fill="#e8315a" shape-rendering="crispEdges"/>
<rect x="921.00" y="220.00" width="5.00" height="7.00" fill="#1fa37a" shape-rendering="crispEdges"/>
<rect x="927.00" y="226.00" width="5.00" height="7.00" fill="#1fa37a" shape-rendering="crispEdges"/>
<rect x="933.00" y="223.00" width="5.00" height="10.00" fill="#e8315a" shape-rendering="crispEdges"/>
<rect x="940.00" y="223.00" width="5.00" height="7.00" fill="#1fa37a" shape-rendering="crispEdges"/>
<rect x="946.00" y="220.00" width="5.00" height="10.00" fill="#e8315a" shape-rendering="crispEdges"/>
<rect x="952.00" y="220.00" width="5.00" height="7.00" fill="#1fa37a" shape-rendering="crispEdges"/>
<rect x="958.00" y="217.00" width="5.00" height="10.00" fill="#e8315a" shape-rendering="crispEdges"/>
<rect x="965.00" y="217.00" width="5.00" height="7.00" fill="#1fa37a" shape-rendering="crispEdges"/>
<rect x="971.00" y="214.00" width="5.00" height="10.00" fill="#e8315a" shape-rendering="crispEdges"/>
<rect x="977.00" y="206.00" width="5.00" height="9.00" fill="#e8315a" shape-rendering="crispEdges"/>
<rect x="984.00" y="206.00" width="5.00" height="6.00" fill="#1fa37a" shape-rendering="crispEdges"/>
<rect x="990.00" y="203.00" width="5.00" height="9.00" fill="#e8315a" shape-rendering="crispEdges"/>
<rect x="996.00" y="203.00" width="5.00" height="7.00" fill="#1fa37a" shape-rendering="crispEdges"/>
<rect x="1002.00" y="200.00" width="5.00" height="10.00" fill="#e8315a" shape-rendering="crispEdges"/>
<rect x="1009.00" y="191.00" width="5.00" height="10.00" fill="#e8315a" shape-rendering="crispEdges"/>
<rect x="1015.00" y="191.00" width="5.00" height="7.00" fill="#1fa37a" shape-rendering="crispEdges"/>
<rect x="1021.00" y="197.00" width="5.00" height="7.00" fill="#1fa37a" shape-rendering="crispEdges"/>
<rect x="1028.00" y="194.00" width="5.00" height="10.00" fill="#e8315a" shape-rendering="crispEdges"/>
<rect x="1034.00" y="194.00" width="5.00" height="7.00" fill="#1fa37a" shape-rendering="crispEdges"/>
<rect x="1040.00" y="200.00" width="5.00" height="7.00" fill="#1fa37a" shape-rendering="crispEdges"/>
<rect x="1046.00" y="206.00" width="5.00" height="7.00" fill="#1fa37a" shape-rendering="crispEdges"/>
<rect x="1053.00" y="212.00" width="5.00" height="7.00" fill="#1fa37a" shape-rendering="crispEdges"/>
<rect x="1059.00" y="218.00" width="5.00" height="7.00" fill="#1fa37a" shape-rendering="crispEdges"/>
<rect x="1065.00" y="224.00" width="5.00" height="7.00" fill="#1fa37a" shape-rendering="crispEdges"/>
<rect x="1072.00" y="221.00" width="5.00" height="10.00" fill="#e8315a" shape-rendering="crispEdges"/>
<rect x="1078.00" y="221.00" width="5.00" height="7.00" fill="#1fa37a" shape-rendering="crispEdges"/>
<rect x="1084.00" y="218.00" width="5.00" height="10.00" fill="#e8315a" shape-rendering="crispEdges"/>
<rect x="1090.00" y="209.00" width="5.00" height="10.00" fill="#e8315a" shape-rendering="crispEdges"/>
<rect x="1097.00" y="209.00" width="5.00" height="7.00" fill="#1fa37a" shape-rendering="crispEdges"/>
<rect x="1103.00" y="215.00" width="5.00" height="7.00" fill="#1fa37a" shape-rendering="crispEdges"/>
<rect x="1109.00" y="221.00" width="5.00" height="7.00" fill="#1fa37a" shape-rendering="crispEdges"/>
<rect x="1116.00" y="218.00" width="5.00" height="10.00" fill="#e8315a" shape-rendering="crispEdges"/>
<rect x="1122.00" y="210.00" width="5.00" height="9.00" fill="#e8315a" shape-rendering="crispEdges"/>
<rect x="1128.00" y="201.00" width="5.00" height="10.00" fill="#e8315a" shape-rendering="crispEdges"/>
<rect x="1134.00" y="192.00" width="5.00" height="10.00" fill="#e8315a" shape-rendering="crispEdges"/>
<rect x="1141.00" y="192.00" width="5.00" height="7.00" fill="#1fa37a" shape-rendering="crispEdges"/>
<rect x="1147.00" y="189.00" width="5.00" height="10.00" fill="#e8315a" shape-rendering="crispEdges"/>
<rect x="1153.00" y="181.00" width="5.00" height="9.00" fill="#e8315a" shape-rendering="crispEdges"/>
<rect x="1160.00" y="181.00" width="5.00" height="6.00" fill="#1fa37a" shape-rendering="crispEdges"/>
<rect x="1166.00" y="178.00" width="5.00" height="9.00" fill="#e8315a" shape-rendering="crispEdges"/>
<rect x="1172.00" y="169.00" width="5.00" height="10.00" fill="#e8315a" shape-rendering="crispEdges"/>
<rect x="1178.00" y="160.00" width="5.00" height="10.00" fill="#e8315a" shape-rendering="crispEdges"/>
<rect x="1185.00" y="152.00" width="5.00" height="9.00" fill="#e8315a" shape-rendering="crispEdges"/>
<rect x="1191.00" y="152.00" width="5.00" height="6.00" fill="#1fa37a" shape-rendering="crispEdges"/>
<rect x="1197.00" y="157.00" width="5.00" height="7.00" fill="#1fa37a" shape-rendering="crispEdges"/>
<rect x="1204.00" y="163.00" width="5.00" height="7.00" fill="#1fa37a" shape-rendering="crispEdges"/>
<rect x="1210.00" y="161.00" width="5.00" height="9.00" fill="#e8315a" shape-rendering="crispEdges"/>
<rect x="1216.00" y="161.00" width="5.00" height="6.00" fill="#1fa37a" shape-rendering="crispEdges"/>
<rect x="1222.00" y="158.00" width="5.00" height="9.00" fill="#e8315a" shape-rendering="crispEdges"/>
<rect x="1229.00" y="158.00" width="5.00" height="7.00" fill="#1fa37a" shape-rendering="crispEdges"/>
<rect x="1235.00" y="164.00" width="5.00" height="6.00" fill="#1fa37a" shape-rendering="crispEdges"/>
<rect x="1241.00" y="169.00" width="5.00" height="7.00" fill="#1fa37a" shape-rendering="crispEdges"/>
<rect x="1248.00" y="167.00" width="5.00" height="9.00" fill="#e8315a" shape-rendering="crispEdges"/>
<rect x="1254.00" y="167.00" width="5.00" height="6.00" fill="#1fa37a" shape-rendering="crispEdges"/>
<rect x="1260.00" y="172.00" width="5.00" height="7.00" fill="#1fa37a" shape-rendering="crispEdges"/>
<rect x="1266.00" y="170.00" width="5.00" height="9.00" fill="#e8315a" shape-rendering="crispEdges"/>
<rect x="1273.00" y="161.00" width="5.00" height="10.00" fill="#e8315a" shape-rendering="crispEdges"/>
<rect x="1279.00" y="152.00" width="5.00" height="10.00" fill="#e8315a" shape-rendering="crispEdges"/>
<rect x="1285.00" y="144.00" width="5.00" height="9.00" fill="#e8315a" shape-rendering="crispEdges"/>
<rect x="1292.00" y="144.00" width="5.00" height="6.00" fill="#1fa37a" shape-rendering="crispEdges"/>
<rect x="1298.00" y="141.00" width="5.00" height="9.00" fill="#e8315a" shape-rendering="crispEdges"/>
<rect x="1304.00" y="132.00" width="5.00" height="10.00" fill="#e8315a" shape-rendering="crispEdges"/>
<rect x="1310.00" y="132.00" width="5.00" height="7.00" fill="#1fa37a" shape-rendering="crispEdges"/>
<rect x="1317.00" y="138.00" width="5.00" height="7.00" fill="#1fa37a" shape-rendering="crispEdges"/>
<rect x="1323.00" y="135.00" width="5.00" height="10.00" fill="#e8315a" shape-rendering="crispEdges"/>
<rect x="1329.00" y="135.00" width="5.00" height="7.00" fill="#1fa37a" shape-rendering="crispEdges"/>
<rect x="1335.00" y="141.00" width="5.00" height="7.00" fill="#1fa37a" shape-rendering="crispEdges"/>
<rect x="1342.00" y="138.00" width="5.00" height="10.00" fill="#e8315a" shape-rendering="crispEdges"/>
<rect x="1348.00" y="138.00" width="5.00" height="7.00" fill="#1fa37a" shape-rendering="crispEdges"/>
<rect x="1354.00" y="135.00" width="5.00" height="10.00" fill="#e8315a" shape-rendering="crispEdges"/>
<rect x="1361.00" y="127.00" width="5.00" height="9.00" fill="#e8315a" shape-rendering="crispEdges"/>
<rect x="1367.00" y="118.00" width="5.00" height="10.00" fill="#e8315a" shape-rendering="crispEdges"/>
<rect x="1373.00" y="109.00" width="5.00" height="10.00" fill="#e8315a" shape-rendering="crispEdges"/>
<rect x="1379.00" y="109.00" width="5.00" height="7.00" fill="#1fa37a" shape-rendering="crispEdges"/>
<rect x="1386.00" y="115.00" width="5.00" height="7.00" fill="#1fa37a" shape-rendering="crispEdges"/>
<rect x="1392.00" y="121.00" width="5.00" height="7.00" fill="#1fa37a" shape-rendering="crispEdges"/>
<rect x="1398.00" y="127.00" width="5.00" height="7.00" fill="#1fa37a" shape-rendering="crispEdges"/>
<rect x="1405.00" y="133.00" width="5.00" height="7.00" fill="#1fa37a" shape-rendering="crispEdges"/>
<rect x="1411.00" y="139.00" width="5.00" height="6.00" fill="#1fa37a" shape-rendering="crispEdges"/>
<rect x="1417.00" y="136.00" width="5.00" height="9.00" fill="#e8315a" shape-rendering="crispEdges"/>
<rect x="1423.00" y="136.00" width="5.00" height="7.00" fill="#1fa37a" shape-rendering="crispEdges"/>
<rect x="1430.00" y="142.00" width="5.00" height="6.00" fill="#1fa37a" shape-rendering="crispEdges"/>
<rect x="1436.00" y="147.00" width="5.00" height="7.00" fill="#1fa37a" shape-rendering="crispEdges"/>
<rect x="1442.00" y="145.00" width="5.00" height="9.00" fill="#e8315a" shape-rendering="crispEdges"/>
<rect x="1449.00" y="145.00" width="5.00" height="6.00" fill="#1fa37a" shape-rendering="crispEdges"/>
<rect x="1455.00" y="150.00" width="5.00" height="7.00" fill="#1fa37a" shape-rendering="crispEdges"/>
<rect x="1461.00" y="148.00" width="5.00" height="9.00" fill="#e8315a" shape-rendering="crispEdges"/>
<rect x="1467.00" y="139.00" width="5.00" height="10.00" fill="#e8315a" shape-rendering="crispEdges"/>
<rect x="1474.00" y="130.00" width="5.00" height="10.00" fill="#e8315a" shape-rendering="crispEdges"/>
<rect x="1480.00" y="122.00" width="5.00" height="9.00" fill="#e8315a" shape-rendering="crispEdges"/>
<rect x="1486.00" y="113.00" width="5.00" height="10.00" fill="#e8315a" shape-rendering="crispEdges"/>
<rect x="1493.00" y="104.00" width="5.00" height="10.00" fill="#e8315a" shape-rendering="crispEdges"/>
<rect x="1499.00" y="95.00" width="5.00" height="10.00" fill="#e8315a" shape-rendering="crispEdges"/>
<rect x="1505.00" y="87.00" width="5.00" height="9.00" fill="#e8315a" shape-rendering="crispEdges"/>
<rect x="1511.00" y="78.00" width="5.00" height="10.00" fill="#e8315a" shape-rendering="crispEdges"/>
<rect x="1518.00" y="69.00" width="5.00" height="10.00" fill="#e8315a" shape-rendering="crispEdges"/>
<rect x="1524.00" y="61.00" width="5.00" height="9.00" fill="#e8315a" shape-rendering="crispEdges"/>
<polyline points="783.2,403.4 820.0,388.4 856.7,388.4 893.5,395.9 930.3,403.4 967.1,403.4 1003.8,403.4 1040.6,358.4 1077.4,380.9 1114.1,388.4 1150.9,403.4 1187.7,403.4 1224.4,403.4 1261.2,403.4 1298.0,403.4 1334.8,403.4 1371.5,403.4 1408.3,403.4 1445.1,403.4 1481.8,403.4 1518.6,403.4" fill="none" stroke="#9a9a9a" stroke-width="1" stroke-linejoin="round" stroke-linecap="round"/>
<circle cx="783.2" cy="403.4" r="11.7" fill="#b218dc" stroke="#080000" stroke-width="1.1"/>
<circle cx="820.0" cy="388.4" r="11.7" fill="#ff0000" stroke="#080000" stroke-width="1.1"/>
<circle cx="856.7" cy="388.4" r="11.7" fill="#ff0000" stroke="#080000" stroke-width="1.1"/>
<circle cx="893.5" cy="395.9" r="11.7" fill="#ff0000" stroke="#080000" stroke-width="1.1"/>
<circle cx="930.3" cy="403.4" r="11.7" fill="#ff0000" stroke="#080000" stroke-width="1.1"/>
<circle cx="967.1" cy="403.4" r="11.7" fill="#ff0000" stroke="#080000" stroke-width="1.1"/>
<circle cx="1003.8" cy="403.4" r="11.7" fill="#ff0000" stroke="#080000" stroke-width="1.1"/>
<circle cx="1040.6" cy="358.4" r="11.7" fill="#ff0000" stroke="#080000" stroke-width="1.1"/>
<circle cx="1077.4" cy="380.9" r="11.7" fill="#ff0000" stroke="#080000" stroke-width="1.1"/>
<circle cx="1114.1" cy="388.4" r="11.7" fill="#ff0000" stroke="#080000" stroke-width="1.1"/>
<circle cx="1150.9" cy="403.4" r="11.7" fill="#1f9e72" stroke="#080000" stroke-width="1.1"/>
<circle cx="1187.7" cy="403.4" r="11.7" fill="#ff0000" stroke="#080000" stroke-width="1.1"/>
<circle cx="1224.4" cy="403.4" r="11.7" fill="#ff0000" stroke="#080000" stroke-width="1.1"/>
<circle cx="1261.2" cy="403.4" r="11.7" fill="#ff0000" stroke="#080000" stroke-width="1.1"/>
<circle cx="1298.0" cy="403.4" r="11.7" fill="#ff0000" stroke="#080000" stroke-width="1.1"/>
<circle cx="1334.8" cy="403.4" r="11.7" fill="#4a62ee" stroke="#080000" stroke-width="1.1"/>
<circle cx="1371.5" cy="403.4" r="11.7" fill="#ff0000" stroke="#080000" stroke-width="1.1"/>
<circle cx="1408.3" cy="403.4" r="11.7" fill="#ff0000" stroke="#080000" stroke-width="1.1"/>
<circle cx="1445.1" cy="403.4" r="11.7" fill="#ff0000" stroke="#080000" stroke-width="1.1"/>
<circle cx="1481.8" cy="403.4" r="11.7" fill="#ff0000" stroke="#080000" stroke-width="1.1"/>
<circle cx="1518.6" cy="403.4" r="11.7" fill="#4a62ee" stroke="#080000" stroke-width="1.1"/>
<polyline points="783.2,395.4 880.0,395.6 960.0,397.7 1010.0,397.9 1060.0,392.5 1100.0,392.0 1160.0,392.3 1220.0,394.4 1352.0,394.8 1441.0,403.2 1519.0,403.2" fill="none" stroke="#1f9c6e" stroke-width="1.7" stroke-linejoin="round" stroke-linecap="round" stroke-opacity="0.65"/>
<polyline points="783.2,401.4 880.0,395.2 940.0,395.6 975.0,396.5 1010.0,398.4 1060.0,393.0 1100.0,387.7 1110.0,386.9 1188.0,386.9 1225.0,395.5 1260.0,399.6 1297.0,403.1 1519.0,403.1" fill="none" stroke="#3e5ce0" stroke-width="1.1" stroke-linejoin="round" stroke-linecap="round"/>
<polyline points="783.0,392.5 1519.0,392.5" fill="none" stroke="#ffffff" stroke-width="1" stroke-linejoin="round" stroke-linecap="round"/>
<polyline points="783.2,397.1 1000.0,397.3 1100.0,395.5 1160.0,393.8 1300.0,396.1 1519.0,397.0" fill="none" stroke="#c030e0" stroke-width="1.1" stroke-linejoin="round" stroke-linecap="round"/>
<text x="783.2" y="409.2" class="d" textLength="8" lengthAdjust="spacingAndGlyphs">0</text>
<text x="820.0" y="394.2" class="d" textLength="8" lengthAdjust="spacingAndGlyphs">2</text>
<text x="856.7" y="394.2" class="d" textLength="8" lengthAdjust="spacingAndGlyphs">2</text>
<text x="893.5" y="401.7" class="d" textLength="8" lengthAdjust="spacingAndGlyphs">1</text>
<text x="930.3" y="409.2" class="d" textLength="8" lengthAdjust="spacingAndGlyphs">0</text>
<text x="967.1" y="409.2" class="d" textLength="8" lengthAdjust="spacingAndGlyphs">0</text>
<text x="1003.8" y="409.2" class="d" textLength="8" lengthAdjust="spacingAndGlyphs">0</text>
<text x="1040.6" y="364.2" class="d" textLength="8" lengthAdjust="spacingAndGlyphs">6</text>
<text x="1077.4" y="386.7" class="d" textLength="8" lengthAdjust="spacingAndGlyphs">3</text>
<text x="1114.1" y="394.2" class="d" textLength="8" lengthAdjust="spacingAndGlyphs">2</text>
<text x="1150.9" y="409.2" class="d" textLength="8" lengthAdjust="spacingAndGlyphs">0</text>
<text x="1187.7" y="409.2" class="d" textLength="8" lengthAdjust="spacingAndGlyphs">0</text>
<text x="1224.4" y="409.2" class="d" textLength="8" lengthAdjust="spacingAndGlyphs">0</text>
<text x="1261.2" y="409.2" class="d" textLength="8" lengthAdjust="spacingAndGlyphs">0</text>
<text x="1298.0" y="409.2" class="d" textLength="8" lengthAdjust="spacingAndGlyphs">0</text>
<text x="1334.8" y="409.2" class="d" textLength="8" lengthAdjust="spacingAndGlyphs">0</text>
<text x="1371.5" y="409.2" class="d" textLength="8" lengthAdjust="spacingAndGlyphs">0</text>
<text x="1408.3" y="409.2" class="d" textLength="8" lengthAdjust="spacingAndGlyphs">0</text>
<text x="1445.1" y="409.2" class="d" textLength="8" lengthAdjust="spacingAndGlyphs">0</text>
<text x="1481.8" y="409.2" class="d" textLength="8" lengthAdjust="spacingAndGlyphs">0</text>
<text x="1518.6" y="409.2" class="d" textLength="8" lengthAdjust="spacingAndGlyphs">0</text>
<rect x="770.00" y="486.50" width="4.00" height="5.60" fill="#1fa37a"/>
<rect x="776.00" y="486.50" width="4.00" height="4.30" fill="#1fa37a"/>
<rect x="783.00" y="486.50" width="4.00" height="4.30" fill="#1fa37a"/>
<rect x="789.00" y="486.50" width="4.00" height="5.00" fill="#1fa37a"/>
<rect x="795.00" y="486.50" width="4.00" height="5.60" fill="#1fa37a"/>
<rect x="801.00" y="486.50" width="4.00" height="6.30" fill="#1fa37a"/>
<rect x="808.00" y="486.50" width="4.00" height="5.00" fill="#1fa37a"/>
<rect x="814.00" y="486.50" width="4.00" height="2.50" fill="#1fa37a"/>
<rect x="820.00" y="486.50" width="4.00" height="2.50" fill="#1fa37a"/>
<rect x="827.00" y="486.50" width="4.00" height="1.80" fill="#1fa37a"/>
<rect x="833.00" y="485.50" width="4.00" height="1.00" fill="#e8315a"/>
<rect x="839.00" y="484.50" width="4.00" height="2.00" fill="#e8315a"/>
<rect x="845.00" y="481.90" width="4.00" height="4.60" fill="#e8315a"/>
<rect x="852.00" y="479.50" width="4.00" height="7.00" fill="#e8315a"/>
<rect x="858.00" y="476.90" width="4.00" height="9.60" fill="#e8315a"/>
<rect x="864.00" y="474.90" width="4.00" height="11.60" fill="#e8315a"/>
<rect x="871.00" y="474.90" width="4.00" height="11.60" fill="#e8315a"/>
<rect x="877.00" y="476.50" width="4.00" height="10.00" fill="#e8315a"/>
<rect x="883.00" y="476.90" width="4.00" height="9.60" fill="#e8315a"/>
<rect x="889.00" y="475.60" width="4.00" height="10.90" fill="#e8315a"/>
<rect x="896.00" y="474.90" width="4.00" height="11.60" fill="#e8315a"/>
<rect x="902.00" y="475.60" width="4.00" height="10.90" fill="#e8315a"/>
<rect x="908.00" y="477.60" width="4.00" height="8.90" fill="#e8315a"/>
<rect x="915.00" y="478.90" width="4.00" height="7.60" fill="#e8315a"/>
<rect x="921.00" y="480.70" width="4.00" height="5.80" fill="#e8315a"/>
<rect x="927.00" y="482.70" width="4.00" height="3.80" fill="#e8315a"/>
<rect x="933.00" y="483.70" width="4.00" height="2.80" fill="#e8315a"/>
<rect x="940.00" y="485.70" width="4.00" height="0.80" fill="#e8315a"/>
<rect x="946.00" y="485.70" width="4.00" height="0.80" fill="#e8315a"/>
<rect x="952.00" y="486.50" width="4.00" height="1.00" fill="#1fa37a"/>
<rect x="958.00" y="486.50" width="4.00" height="0.60" fill="#1fa37a"/>
<rect x="965.00" y="486.50" width="4.00" height="1.00" fill="#1fa37a"/>
<rect x="971.00" y="485.90" width="4.00" height="0.60" fill="#e8315a"/>
<rect x="977.00" y="485.00" width="4.00" height="1.50" fill="#e8315a"/>
<rect x="984.00" y="485.00" width="4.00" height="1.50" fill="#e8315a"/>
<rect x="990.00" y="483.70" width="4.00" height="2.80" fill="#e8315a"/>
<rect x="996.00" y="484.50" width="4.00" height="2.00" fill="#e8315a"/>
<rect x="1002.00" y="483.70" width="4.00" height="2.80" fill="#e8315a"/>
<rect x="1009.00" y="482.70" width="4.00" height="3.80" fill="#e8315a"/>
<rect x="1015.00" y="482.70" width="4.00" height="3.80" fill="#e8315a"/>
<rect x="1021.00" y="484.50" width="4.00" height="2.00" fill="#e8315a"/>
<rect x="1028.00" y="485.00" width="4.00" height="1.50" fill="#e8315a"/>
<rect x="1034.00" y="486.50" width="4.00" height="0.60" fill="#1fa37a"/>
<rect x="1040.00" y="486.50" width="4.00" height="2.50" fill="#1fa37a"/>
<rect x="1046.00" y="486.50" width="4.00" height="4.30" fill="#1fa37a"/>
<rect x="1053.00" y="486.50" width="4.00" height="6.30" fill="#1fa37a"/>
<rect x="1059.00" y="486.50" width="4.00" height="8.10" fill="#1fa37a"/>
<rect x="1065.00" y="486.50" width="4.00" height="10.00" fill="#1fa37a"/>
<rect x="1072.00" y="486.50" width="4.00" height="10.00" fill="#1fa37a"/>
<rect x="1078.00" y="486.50" width="4.00" height="9.40" fill="#1fa37a"/>
<rect x="1084.00" y="486.50" width="4.00" height="7.60" fill="#1fa37a"/>
<rect x="1090.00" y="486.50" width="4.00" height="6.30" fill="#1fa37a"/>
<rect x="1097.00" y="486.50" width="4.00" height="5.00" fill="#1fa37a"/>
<rect x="1103.00" y="486.50" width="4.00" height="5.60" fill="#1fa37a"/>
<rect x="1109.00" y="486.50" width="4.00" height="6.30" fill="#1fa37a"/>
<rect x="1116.00" y="486.50" width="4.00" height="5.00" fill="#1fa37a"/>
<rect x="1122.00" y="486.50" width="4.00" height="2.50" fill="#1fa37a"/>
<rect x="1128.00" y="485.00" width="4.00" height="1.50" fill="#e8315a"/>
<rect x="1134.00" y="482.70" width="4.00" height="3.80" fill="#e8315a"/>
<rect x="1141.00" y="481.50" width="4.00" height="5.00" fill="#e8315a"/>
<rect x="1147.00" y="479.90" width="4.00" height="6.60" fill="#e8315a"/>
<rect x="1153.00" y="478.90" width="4.00" height="7.60" fill="#e8315a"/>
<rect x="1160.00" y="478.90" width="4.00" height="7.60" fill="#e8315a"/>
<rect x="1166.00" y="478.10" width="4.00" height="8.40" fill="#e8315a"/>
<rect x="1172.00" y="476.90" width="4.00" height="9.60" fill="#e8315a"/>
<rect x="1178.00" y="474.90" width="4.00" height="11.60" fill="#e8315a"/>
<rect x="1185.00" y="473.80" width="4.00" height="12.70" fill="#e8315a"/>
<rect x="1191.00" y="474.90" width="4.00" height="11.60" fill="#e8315a"/>
<rect x="1197.00" y="476.90" width="4.00" height="9.60" fill="#e8315a"/>
<rect x="1204.00" y="479.90" width="4.00" height="6.60" fill="#e8315a"/>
<rect x="1210.00" y="480.70" width="4.00" height="5.80" fill="#e8315a"/>
<rect x="1216.00" y="482.70" width="4.00" height="3.80" fill="#e8315a"/>
<rect x="1222.00" y="482.70" width="4.00" height="3.80" fill="#e8315a"/>
<rect x="1229.00" y="485.00" width="4.00" height="1.50" fill="#e8315a"/>
<rect x="1235.00" y="486.50" width="4.00" height="1.00" fill="#1fa37a"/>
<rect x="1241.00" y="486.50" width="4.00" height="3.00" fill="#1fa37a"/>
<rect x="1248.00" y="486.50" width="4.00" height="4.30" fill="#1fa37a"/>
<rect x="1254.00" y="486.50" width="4.00" height="5.00" fill="#1fa37a"/>
<rect x="1260.00" y="486.50" width="4.00" height="6.00" fill="#1fa37a"/>
<rect x="1266.00" y="486.50" width="4.00" height="6.00" fill="#1fa37a"/>
<rect x="1273.00" y="486.50" width="4.00" height="4.30" fill="#1fa37a"/>
<rect x="1279.00" y="486.50" width="4.00" height="2.50" fill="#1fa37a"/>
<rect x="1285.00" y="485.00" width="4.00" height="1.50" fill="#e8315a"/>
<rect x="1292.00" y="485.00" width="4.00" height="1.50" fill="#e8315a"/>
<rect x="1298.00" y="482.70" width="4.00" height="3.80" fill="#e8315a"/>
<rect x="1304.00" y="480.70" width="4.00" height="5.80" fill="#e8315a"/>
<rect x="1310.00" y="481.90" width="4.00" height="4.60" fill="#e8315a"/>
<rect x="1317.00" y="482.70" width="4.00" height="3.80" fill="#e8315a"/>
<rect x="1323.00" y="482.70" width="4.00" height="3.80" fill="#e8315a"/>
<rect x="1329.00" y="483.70" width="4.00" height="2.80" fill="#e8315a"/>
<rect x="1335.00" y="486.50" width="4.00" height="0.60" fill="#1fa37a"/>
<rect x="1342.00" y="486.50" width="4.00" height="0.60" fill="#1fa37a"/>
<rect x="1348.00" y="486.50" width="4.00" height="1.00" fill="#1fa37a"/>
<rect x="1354.00" y="486.50" width="4.00" height="1.00" fill="#1fa37a"/>
<rect x="1361.00" y="485.70" width="4.00" height="0.80" fill="#e8315a"/>
<rect x="1367.00" y="483.70" width="4.00" height="2.80" fill="#e8315a"/>
<rect x="1373.00" y="481.90" width="4.00" height="4.60" fill="#e8315a"/>
<rect x="1379.00" y="481.90" width="4.00" height="4.60" fill="#e8315a"/>
<rect x="1386.00" y="482.70" width="4.00" height="3.80" fill="#e8315a"/>
<rect x="1392.00" y="485.00" width="4.00" height="1.50" fill="#e8315a"/>
<rect x="1398.00" y="486.50" width="4.00" height="2.50" fill="#1fa37a"/>
<rect x="1405.00" y="486.50" width="4.00" height="4.30" fill="#1fa37a"/>
<rect x="1411.00" y="486.50" width="4.00" height="7.60" fill="#1fa37a"/>
<rect x="1417.00" y="486.50" width="4.00" height="7.60" fill="#1fa37a"/>
<rect x="1423.00" y="486.50" width="4.00" height="6.80" fill="#1fa37a"/>
<rect x="1430.00" y="486.50" width="4.00" height="9.40" fill="#1fa37a"/>
<rect x="1436.00" y="486.50" width="4.00" height="10.00" fill="#1fa37a"/>
<rect x="1442.00" y="486.50" width="4.00" height="9.40" fill="#1fa37a"/>
<rect x="1449.00" y="486.50" width="4.00" height="9.40" fill="#1fa37a"/>
<rect x="1455.00" y="486.50" width="4.00" height="9.40" fill="#1fa37a"/>
<rect x="1461.00" y="486.50" width="4.00" height="8.10" fill="#1fa37a"/>
<rect x="1467.00" y="486.50" width="4.00" height="6.30" fill="#1fa37a"/>
<rect x="1474.00" y="486.50" width="4.00" height="2.50" fill="#1fa37a"/>
<rect x="1480.00" y="485.00" width="4.00" height="1.50" fill="#e8315a"/>
<rect x="1486.00" y="481.90" width="4.00" height="4.60" fill="#e8315a"/>
<rect x="1493.00" y="478.90" width="4.00" height="7.60" fill="#e8315a"/>
<rect x="1499.00" y="475.60" width="4.00" height="10.90" fill="#e8315a"/>
<rect x="1505.00" y="473.80" width="4.00" height="12.70" fill="#e8315a"/>
<rect x="1511.00" y="471.80" width="4.00" height="14.70" fill="#e8315a"/>
<rect x="1518.00" y="469.80" width="4.00" height="16.70" fill="#e8315a"/>
<rect x="1524.00" y="468.80" width="4.00" height="17.70" fill="#e8315a"/>
<path d="M771.8,476.4 C775.4,477.0 785.5,478.5 793.3,479.9 C801.1,481.3 810.1,484.0 818.6,485.0 C827.1,486.0 835.5,487.1 844.0,485.7 C852.5,484.3 860.9,480.1 869.3,476.9 C877.7,473.7 886.1,469.4 894.6,466.7 C903.1,463.9 911.5,461.6 920.0,460.4 C928.5,459.2 936.9,459.6 945.3,459.7 C953.7,459.8 962.2,461.2 970.6,461.2 C979.0,461.2 987.5,460.2 995.9,459.7 C1004.3,459.1 1012.8,457.9 1021.2,457.9 C1029.6,457.9 1038.0,458.0 1046.5,459.7 C1055.0,461.4 1063.5,465.4 1071.9,468.0 C1080.4,470.6 1088.8,473.4 1097.2,475.6 C1105.6,477.8 1115.8,480.4 1122.5,481.4 C1129.2,482.4 1133.1,482.1 1137.7,481.4 C1142.3,480.6 1143.7,478.9 1150.0,476.9 C1156.3,474.9 1166.9,472.3 1175.3,469.3 C1183.7,466.3 1192.1,461.4 1200.6,459.1 C1209.0,456.8 1217.5,455.3 1226.0,455.3 C1234.5,455.3 1242.9,457.8 1251.3,459.1 C1259.7,460.4 1268.2,462.5 1276.6,462.9 C1285.0,463.3 1293.5,462.2 1301.9,461.7 C1310.4,461.2 1318.8,459.9 1327.3,459.7 C1335.8,459.5 1344.2,460.7 1352.6,460.4 C1361.0,460.1 1371.2,458.5 1377.9,457.9 C1384.7,457.3 1386.8,456.1 1393.1,456.6 C1399.4,457.2 1407.9,459.1 1415.9,461.2 C1423.9,463.3 1432.8,466.4 1441.2,469.3 C1449.6,472.2 1459.3,477.0 1466.5,478.9 C1473.7,480.8 1478.0,481.5 1484.3,480.7 C1490.6,479.9 1497.3,477.2 1504.5,473.8 C1511.7,470.4 1523.5,462.6 1527.3,460.4" fill="none" stroke="#7f3e76" stroke-width="1.1" stroke-linejoin="round" stroke-linecap="round"/>
<path d="M771.8,482.7 C773.3,482.6 777.1,481.7 780.7,481.9 C784.3,482.1 789.1,482.9 793.3,484.0 C797.5,485.1 801.8,487.3 806.0,488.3 C810.2,489.3 814.4,490.0 818.6,490.0 C822.8,490.0 827.1,489.3 831.3,488.3 C835.5,487.3 839.8,485.9 844.0,484.0 C848.2,482.1 852.4,479.4 856.6,476.9 C860.8,474.4 865.1,470.7 869.3,468.8 C873.5,466.9 877.8,467.1 882.0,465.5 C886.2,463.9 890.8,460.7 894.6,459.1 C898.4,457.5 900.9,456.7 904.7,456.1 C908.5,455.5 913.2,455.0 917.4,455.3 C921.6,455.6 925.4,457.3 930.0,457.9 C934.6,458.5 939.0,458.5 945.3,459.1 C951.6,459.7 961.7,461.6 968.0,461.7 C974.3,461.8 978.6,460.1 983.2,459.7 C987.9,459.3 991.2,459.7 995.9,459.1 C1000.5,458.5 1005.6,456.5 1011.1,456.1 C1016.6,455.7 1024.6,456.3 1028.8,456.6 C1033.0,456.9 1032.6,456.6 1036.4,457.9 C1040.2,459.2 1046.5,461.1 1051.6,464.2 C1056.7,467.3 1061.7,473.5 1066.8,476.4 C1071.9,479.3 1077.3,480.6 1082.0,481.4 C1086.7,482.2 1089.6,480.8 1094.7,481.4 C1099.8,482.0 1107.8,484.7 1112.4,485.0 C1117.0,485.3 1118.3,484.6 1122.5,483.2 C1126.7,481.8 1133.1,478.6 1137.7,476.9 C1142.3,475.2 1146.3,474.5 1150.0,473.0 C1153.7,471.5 1155.9,469.7 1160.1,468.0 C1164.3,466.3 1170.6,465.5 1175.3,463.0 C1180.0,460.5 1184.6,454.8 1188.0,452.8 C1191.4,450.8 1192.6,451.1 1195.6,451.0 C1198.5,450.9 1202.3,451.9 1205.7,452.3 C1209.1,452.7 1212.4,453.3 1215.8,453.6 C1219.2,453.9 1222.6,453.6 1226.0,454.1 C1229.4,454.6 1232.7,455.4 1236.1,456.6 C1239.5,457.8 1242.8,459.9 1246.2,461.2 C1249.6,462.5 1253.0,463.1 1256.4,464.2 C1259.8,465.3 1263.1,467.4 1266.5,468.0 C1269.9,468.6 1273.2,468.7 1276.6,468.0 C1280.0,467.3 1283.3,464.8 1286.7,463.7 C1290.1,462.6 1293.5,462.7 1296.9,461.7 C1300.3,460.7 1303.6,458.6 1307.0,457.9 C1310.4,457.2 1313.7,457.4 1317.1,457.4 C1320.5,457.4 1323.5,457.5 1327.3,457.9 C1331.1,458.3 1335.7,459.0 1339.9,459.7 C1344.1,460.4 1348.4,462.2 1352.6,462.2 C1356.8,462.2 1361.4,460.8 1365.2,459.7 C1369.0,458.6 1372.0,456.2 1375.4,455.3 C1378.8,454.4 1382.1,453.9 1385.5,454.1 C1388.9,454.3 1392.2,455.3 1395.6,456.6 C1399.0,457.9 1402.4,459.8 1405.8,461.7 C1409.2,463.6 1412.1,466.2 1415.9,468.0 C1419.7,469.8 1424.3,470.4 1428.5,472.3 C1432.7,474.2 1437.0,477.4 1441.2,479.4 C1445.4,481.4 1450.1,483.3 1453.9,484.5 C1457.7,485.7 1460.6,486.7 1464.0,486.5 C1467.4,486.3 1470.3,485.2 1474.1,483.2 C1477.9,481.2 1482.6,477.7 1486.8,474.3 C1491.0,470.9 1495.3,466.7 1499.5,462.9 C1503.7,459.1 1507.5,454.8 1512.1,451.5 C1516.7,448.2 1524.8,444.8 1527.3,443.4" fill="none" stroke="#c4a886" stroke-width="1.1" stroke-linejoin="round" stroke-linecap="round"/>
<line x1="2" y1="548.5" x2="765" y2="548.5" stroke="#404145" stroke-width="1" shape-rendering="crispEdges"/>
<line x1="2" y1="621.5" x2="765" y2="621.5" stroke="#404145" stroke-width="1" shape-rendering="crispEdges"/>
<line x1="2" y1="694.5" x2="765" y2="694.5" stroke="#404145" stroke-width="1" shape-rendering="crispEdges"/>
<line x1="2" y1="767.5" x2="765" y2="767.5" stroke="#404145" stroke-width="1" shape-rendering="crispEdges"/>
<line x1="2" y1="841.5" x2="765" y2="841.5" stroke="#404145" stroke-width="1" shape-rendering="crispEdges"/>
<line x1="2" y1="942.5" x2="765" y2="942.5" stroke="#404145" stroke-width="1" shape-rendering="crispEdges"/>
<line x1="2" y1="963.5" x2="765" y2="963.5" stroke="#404145" stroke-width="1" stroke-dasharray="61.3 1.5" stroke-dashoffset="52.80" shape-rendering="crispEdges"/>
<line x1="2" y1="983.5" x2="765" y2="983.5" stroke="#404145" stroke-width="1" stroke-dasharray="61.3 1.5" stroke-dashoffset="52.80" shape-rendering="crispEdges"/>
<line x1="2" y1="1003.5" x2="765" y2="1003.5" stroke="#404145" stroke-width="1" stroke-dasharray="61.3 1.5" stroke-dashoffset="52.80" shape-rendering="crispEdges"/>
<line x1="2" y1="1023.5" x2="765" y2="1023.5" stroke="#404145" stroke-width="1" stroke-dasharray="61.3 1.5" stroke-dashoffset="52.80" shape-rendering="crispEdges"/>
<path d="M4.2,777.7 C7.8,778.2 19.1,779.5 26.0,780.5 C32.9,781.5 39.0,783.0 45.5,783.8 C52.0,784.6 58.4,784.7 64.9,785.1 C71.4,785.5 76.8,786.0 84.4,786.0 C92.0,786.0 102.8,785.5 110.4,785.1 C118.0,784.7 122.3,784.4 129.9,783.8 C137.5,783.1 147.2,782.2 155.8,781.2 C164.5,780.2 174.4,778.5 181.8,777.9 C189.2,777.2 192.8,777.8 200.0,777.3 C207.2,776.8 216.7,776.0 225.0,774.8 C233.3,773.6 241.8,772.1 250.0,770.2 C258.2,768.3 267.1,765.2 274.4,763.4 C281.7,761.6 286.3,761.0 293.9,759.5 C301.5,758.0 311.2,755.8 319.9,754.3 C328.5,752.8 337.1,752.1 345.8,750.4 C354.5,748.7 364.4,745.5 371.8,743.9 C379.2,742.3 382.1,743.1 390.0,740.6 C397.9,738.1 407.7,732.1 419.0,729.1 C430.3,726.1 444.9,724.9 457.9,722.6 C470.9,720.3 483.9,717.5 496.9,715.5 C509.9,713.5 523.6,711.6 535.8,710.3 C548.0,709.0 557.8,709.0 570.0,707.5 C582.2,706.0 596.0,702.5 609.0,701.0 C622.0,699.5 634.9,699.4 647.9,698.4 C660.9,697.4 676.1,696.4 686.9,695.2 C697.7,694.0 704.2,692.7 712.9,691.3 C721.5,689.9 731.2,688.1 738.8,686.8 C746.4,685.4 755.3,683.8 758.6,683.2" fill="none" stroke="#3cc43c" stroke-width="1.2" stroke-linejoin="round" stroke-linecap="round"/>
<path d="M4.2,795.2 C7.8,795.4 19.1,795.8 26.0,796.1 C32.9,796.4 40.1,796.7 45.5,796.8 C50.9,796.9 53.0,797.0 58.4,796.8 C63.8,796.6 72.5,796.6 77.9,795.8 C83.3,795.0 85.5,793.8 90.9,792.2 C96.3,790.6 105.0,787.8 110.4,786.1 C115.8,784.4 119.1,783.6 123.4,781.8 C127.7,780.0 132.1,777.6 136.4,775.3 C140.7,773.0 145.1,770.6 149.4,768.2 C153.7,765.8 158.0,763.1 162.3,761.0 C166.6,758.9 171.0,757.4 175.3,755.8 C179.6,754.2 183.7,752.6 188.3,751.3 C192.9,750.0 197.3,748.9 203.0,747.8 C208.7,746.7 216.0,745.8 222.5,744.5 C229.0,743.2 236.5,741.4 241.9,740.0 C247.3,738.6 250.6,737.7 254.9,736.4 C259.2,735.1 263.6,733.3 267.9,732.2 C272.2,731.1 276.6,730.4 280.9,729.6 C285.2,728.8 289.6,727.9 293.9,727.3 C298.2,726.7 302.6,726.4 306.9,726.0 C311.2,725.6 315.6,725.7 319.9,725.1 C324.2,724.5 328.6,723.1 332.9,722.5 C337.2,721.9 341.5,721.8 345.8,721.6 C350.1,721.4 354.0,721.6 358.8,721.2 C363.6,720.9 369.2,720.3 374.4,719.5 C379.6,718.7 383.6,717.7 390.0,716.6 C396.4,715.5 403.8,715.1 412.5,712.9 C421.2,710.6 434.3,705.3 442.3,703.1 C450.3,700.9 454.6,701.0 460.5,699.9 C466.4,698.8 471.3,697.4 477.4,696.6 C483.5,695.8 490.4,695.5 496.9,695.3 C503.4,695.0 509.9,695.4 516.4,695.1 C522.9,694.9 529.3,694.1 535.8,693.8 C542.3,693.5 549.6,693.5 555.3,693.4 C561.0,693.3 564.3,693.4 570.0,693.2 C575.7,693.0 583.0,693.1 589.5,692.0 C596.0,690.9 603.2,688.2 609.0,686.8 C614.8,685.4 619.1,684.0 624.5,683.8 C629.9,683.6 636.4,685.1 641.4,685.5 C646.4,685.9 649.6,686.1 654.4,686.4 C659.2,686.7 664.6,687.0 670.0,687.1 C675.4,687.2 680.8,687.0 686.9,686.8 C693.0,686.6 699.9,686.5 706.4,686.1 C712.9,685.7 720.4,685.3 725.8,684.2 C731.2,683.1 734.9,681.0 738.8,679.6 C742.7,678.2 745.9,677.2 749.2,675.7 C752.5,674.2 757.0,671.6 758.6,670.8" fill="none" stroke="#e6a41c" stroke-width="1.2" stroke-linejoin="round" stroke-linecap="round"/>
<rect x="2.00" y="805.00" width="5.00" height="4.00" fill="#1fa37a" shape-rendering="crispEdges"/>
<rect x="8.00" y="798.00" width="5.00" height="11.00" fill="#e8315a" shape-rendering="crispEdges"/>
<rect x="15.00" y="798.00" width="5.00" height="5.00" fill="#1fa37a" shape-rendering="crispEdges"/>
<rect x="21.00" y="802.00" width="5.00" height="5.00" fill="#1fa37a" shape-rendering="crispEdges"/>
<rect x="27.00" y="806.00" width="5.00" height="5.00" fill="#1fa37a" shape-rendering="crispEdges"/>
<rect x="33.00" y="810.00" width="5.00" height="4.00" fill="#1fa37a" shape-rendering="crispEdges"/>
<rect x="40.00" y="803.00" width="5.00" height="11.00" fill="#e8315a" shape-rendering="crispEdges"/>
<rect x="46.00" y="792.00" width="5.00" height="12.00" fill="#e8315a" shape-rendering="crispEdges"/>
<rect x="52.00" y="792.00" width="5.00" height="5.00" fill="#1fa37a" shape-rendering="crispEdges"/>
<rect x="59.00" y="785.00" width="5.00" height="12.00" fill="#e8315a" shape-rendering="crispEdges"/>
<rect x="65.00" y="785.00" width="5.00" height="5.00" fill="#1fa37a" shape-rendering="crispEdges"/>
<rect x="71.00" y="779.00" width="5.00" height="11.00" fill="#e8315a" shape-rendering="crispEdges"/>
<rect x="77.00" y="768.00" width="5.00" height="12.00" fill="#e8315a" shape-rendering="crispEdges"/>
<rect x="84.00" y="757.00" width="5.00" height="12.00" fill="#e8315a" shape-rendering="crispEdges"/>
<rect x="90.00" y="746.00" width="5.00" height="12.00" fill="#e8315a" shape-rendering="crispEdges"/>
<rect x="96.00" y="746.00" width="5.00" height="5.00" fill="#1fa37a" shape-rendering="crispEdges"/>
<rect x="103.00" y="750.00" width="5.00" height="5.00" fill="#1fa37a" shape-rendering="crispEdges"/>
<rect x="109.00" y="754.00" width="5.00" height="5.00" fill="#1fa37a" shape-rendering="crispEdges"/>
<rect x="115.00" y="747.00" width="5.00" height="12.00" fill="#e8315a" shape-rendering="crispEdges"/>
<rect x="121.00" y="747.00" width="5.00" height="5.00" fill="#1fa37a" shape-rendering="crispEdges"/>
<rect x="128.00" y="741.00" width="5.00" height="11.00" fill="#e8315a" shape-rendering="crispEdges"/>
<rect x="134.00" y="741.00" width="5.00" height="5.00" fill="#1fa37a" shape-rendering="crispEdges"/>
<rect x="140.00" y="745.00" width="5.00" height="5.00" fill="#1fa37a" shape-rendering="crispEdges"/>
<rect x="147.00" y="738.00" width="5.00" height="12.00" fill="#e8315a" shape-rendering="crispEdges"/>
<rect x="153.00" y="738.00" width="5.00" height="5.00" fill="#1fa37a" shape-rendering="crispEdges"/>
<rect x="159.00" y="742.00" width="5.00" height="5.00" fill="#1fa37a" shape-rendering="crispEdges"/>
<rect x="165.00" y="746.00" width="5.00" height="5.00" fill="#1fa37a" shape-rendering="crispEdges"/>
<rect x="172.00" y="750.00" width="5.00" height="5.00" fill="#1fa37a" shape-rendering="crispEdges"/>
<rect x="178.00" y="743.00" width="5.00" height="12.00" fill="#e8315a" shape-rendering="crispEdges"/>
<rect x="184.00" y="743.00" width="5.00" height="5.00" fill="#1fa37a" shape-rendering="crispEdges"/>
<rect x="190.00" y="736.00" width="5.00" height="12.00" fill="#e8315a" shape-rendering="crispEdges"/>
<rect x="197.00" y="736.00" width="5.00" height="5.00" fill="#1fa37a" shape-rendering="crispEdges"/>
<rect x="203.00" y="740.00" width="5.00" height="5.00" fill="#1fa37a" shape-rendering="crispEdges"/>
<rect x="209.00" y="733.00" width="5.00" height="12.00" fill="#e8315a" shape-rendering="crispEdges"/>
<rect x="216.00" y="733.00" width="5.00" height="5.00" fill="#1fa37a" shape-rendering="crispEdges"/>
<rect x="222.00" y="726.00" width="5.00" height="12.00" fill="#e8315a" shape-rendering="crispEdges"/>
<rect x="228.00" y="726.00" width="5.00" height="5.00" fill="#1fa37a" shape-rendering="crispEdges"/>
<rect x="234.00" y="720.00" width="5.00" height="11.00" fill="#e8315a" shape-rendering="crispEdges"/>
<rect x="241.00" y="709.00" width="5.00" height="12.00" fill="#e8315a" shape-rendering="crispEdges"/>
<rect x="247.00" y="709.00" width="5.00" height="5.00" fill="#1fa37a" shape-rendering="crispEdges"/>
<rect x="253.00" y="713.00" width="5.00" height="5.00" fill="#1fa37a" shape-rendering="crispEdges"/>
<rect x="260.00" y="706.00" width="5.00" height="12.00" fill="#e8315a" shape-rendering="crispEdges"/>
<rect x="266.00" y="706.00" width="5.00" height="5.00" fill="#1fa37a" shape-rendering="crispEdges"/>
<rect x="272.00" y="710.00" width="5.00" height="5.00" fill="#1fa37a" shape-rendering="crispEdges"/>
<rect x="278.00" y="714.00" width="5.00" height="5.00" fill="#1fa37a" shape-rendering="crispEdges"/>
<rect x="285.00" y="718.00" width="5.00" height="5.00" fill="#1fa37a" shape-rendering="crispEdges"/>
<rect x="291.00" y="722.00" width="5.00" height="5.00" fill="#1fa37a" shape-rendering="crispEdges"/>
<rect x="297.00" y="726.00" width="5.00" height="5.00" fill="#1fa37a" shape-rendering="crispEdges"/>
<rect x="304.00" y="730.00" width="5.00" height="4.00" fill="#1fa37a" shape-rendering="crispEdges"/>
<rect x="310.00" y="733.00" width="5.00" height="5.00" fill="#1fa37a" shape-rendering="crispEdges"/>
<rect x="316.00" y="727.00" width="5.00" height="11.00" fill="#e8315a" shape-rendering="crispEdges"/>
<rect x="322.00" y="716.00" width="5.00" height="12.00" fill="#e8315a" shape-rendering="crispEdges"/>
<rect x="329.00" y="716.00" width="5.00" height="5.00" fill="#1fa37a" shape-rendering="crispEdges"/>
<rect x="335.00" y="720.00" width="5.00" height="5.00" fill="#1fa37a" shape-rendering="crispEdges"/>
<rect x="341.00" y="724.00" width="5.00" height="5.00" fill="#1fa37a" shape-rendering="crispEdges"/>
<rect x="348.00" y="728.00" width="5.00" height="5.00" fill="#1fa37a" shape-rendering="crispEdges"/>
<rect x="354.00" y="721.00" width="5.00" height="12.00" fill="#e8315a" shape-rendering="crispEdges"/>
<rect x="360.00" y="710.00" width="5.00" height="12.00" fill="#e8315a" shape-rendering="crispEdges"/>
<rect x="366.00" y="700.00" width="5.00" height="11.00" fill="#e8315a" shape-rendering="crispEdges"/>
<rect x="373.00" y="700.00" width="5.00" height="5.00" fill="#1fa37a" shape-rendering="crispEdges"/>
<rect x="379.00" y="693.00" width="5.00" height="12.00" fill="#e8315a" shape-rendering="crispEdges"/>
<rect x="385.00" y="682.00" width="5.00" height="12.00" fill="#e8315a" shape-rendering="crispEdges"/>
<rect x="392.00" y="682.00" width="5.00" height="5.00" fill="#1fa37a" shape-rendering="crispEdges"/>
<rect x="398.00" y="686.00" width="5.00" height="5.00" fill="#1fa37a" shape-rendering="crispEdges"/>
<rect x="404.00" y="690.00" width="5.00" height="5.00" fill="#1fa37a" shape-rendering="crispEdges"/>
<rect x="410.00" y="694.00" width="5.00" height="5.00" fill="#1fa37a" shape-rendering="crispEdges"/>
<rect x="417.00" y="687.00" width="5.00" height="12.00" fill="#e8315a" shape-rendering="crispEdges"/>
<rect x="423.00" y="687.00" width="5.00" height="5.00" fill="#1fa37a" shape-rendering="crispEdges"/>
<rect x="429.00" y="691.00" width="5.00" height="5.00" fill="#1fa37a" shape-rendering="crispEdges"/>
<rect x="436.00" y="695.00" width="5.00" height="5.00" fill="#1fa37a" shape-rendering="crispEdges"/>
<rect x="442.00" y="688.00" width="5.00" height="12.00" fill="#e8315a" shape-rendering="crispEdges"/>
<rect x="448.00" y="688.00" width="5.00" height="5.00" fill="#1fa37a" shape-rendering="crispEdges"/>
<rect x="454.00" y="692.00" width="5.00" height="5.00" fill="#1fa37a" shape-rendering="crispEdges"/>
<rect x="461.00" y="696.00" width="5.00" height="5.00" fill="#1fa37a" shape-rendering="crispEdges"/>
<rect x="467.00" y="700.00" width="5.00" height="5.00" fill="#1fa37a" shape-rendering="crispEdges"/>
<rect x="473.00" y="704.00" width="5.00" height="5.00" fill="#1fa37a" shape-rendering="crispEdges"/>
<rect x="480.00" y="697.00" width="5.00" height="12.00" fill="#e8315a" shape-rendering="crispEdges"/>
<rect x="486.00" y="697.00" width="5.00" height="5.00" fill="#1fa37a" shape-rendering="crispEdges"/>
<rect x="492.00" y="701.00" width="5.00" height="5.00" fill="#1fa37a" shape-rendering="crispEdges"/>
<rect x="498.00" y="694.00" width="5.00" height="12.00" fill="#e8315a" shape-rendering="crispEdges"/>
<rect x="505.00" y="683.00" width="5.00" height="12.00" fill="#e8315a" shape-rendering="crispEdges"/>
<rect x="511.00" y="683.00" width="5.00" height="5.00" fill="#1fa37a" shape-rendering="crispEdges"/>
<rect x="517.00" y="677.00" width="5.00" height="11.00" fill="#e8315a" shape-rendering="crispEdges"/>
<rect x="524.00" y="677.00" width="5.00" height="5.00" fill="#1fa37a" shape-rendering="crispEdges"/>
<rect x="530.00" y="681.00" width="5.00" height="5.00" fill="#1fa37a" shape-rendering="crispEdges"/>
<rect x="536.00" y="685.00" width="5.00" height="4.00" fill="#1fa37a" shape-rendering="crispEdges"/>
<rect x="542.00" y="688.00" width="5.00" height="5.00" fill="#1fa37a" shape-rendering="crispEdges"/>
<rect x="549.00" y="692.00" width="5.00" height="5.00" fill="#1fa37a" shape-rendering="crispEdges"/>
<rect x="555.00" y="686.00" width="5.00" height="11.00" fill="#e8315a" shape-rendering="crispEdges"/>
<rect x="561.00" y="686.00" width="5.00" height="5.00" fill="#1fa37a" shape-rendering="crispEdges"/>
<rect x="567.00" y="690.00" width="5.00" height="4.00" fill="#1fa37a" shape-rendering="crispEdges"/>
<rect x="574.00" y="683.00" width="5.00" height="11.00" fill="#e8315a" shape-rendering="crispEdges"/>
<rect x="580.00" y="683.00" width="5.00" height="5.00" fill="#1fa37a" shape-rendering="crispEdges"/>
<rect x="586.00" y="687.00" width="5.00" height="5.00" fill="#1fa37a" shape-rendering="crispEdges"/>
<rect x="593.00" y="680.00" width="5.00" height="12.00" fill="#e8315a" shape-rendering="crispEdges"/>
<rect x="599.00" y="669.00" width="5.00" height="12.00" fill="#e8315a" shape-rendering="crispEdges"/>
<rect x="605.00" y="669.00" width="5.00" height="5.00" fill="#1fa37a" shape-rendering="crispEdges"/>
<rect x="611.00" y="673.00" width="5.00" height="5.00" fill="#1fa37a" shape-rendering="crispEdges"/>
<rect x="618.00" y="677.00" width="5.00" height="5.00" fill="#1fa37a" shape-rendering="crispEdges"/>
<rect x="624.00" y="681.00" width="5.00" height="5.00" fill="#1fa37a" shape-rendering="crispEdges"/>
<rect x="630.00" y="685.00" width="5.00" height="5.00" fill="#1fa37a" shape-rendering="crispEdges"/>
<rect x="637.00" y="689.00" width="5.00" height="5.00" fill="#1fa37a" shape-rendering="crispEdges"/>
<rect x="643.00" y="693.00" width="5.00" height="5.00" fill="#1fa37a" shape-rendering="crispEdges"/>
<rect x="649.00" y="686.00" width="5.00" height="12.00" fill="#e8315a" shape-rendering="crispEdges"/>
<rect x="655.00" y="686.00" width="5.00" height="5.00" fill="#1fa37a" shape-rendering="crispEdges"/>
<rect x="662.00" y="690.00" width="5.00" height="5.00" fill="#1fa37a" shape-rendering="crispEdges"/>
<rect x="668.00" y="694.00" width="5.00" height="5.00" fill="#1fa37a" shape-rendering="crispEdges"/>
<rect x="674.00" y="687.00" width="5.00" height="12.00" fill="#e8315a" shape-rendering="crispEdges"/>
<rect x="681.00" y="687.00" width="5.00" height="5.00" fill="#1fa37a" shape-rendering="crispEdges"/>
<rect x="687.00" y="691.00" width="5.00" height="5.00" fill="#1fa37a" shape-rendering="crispEdges"/>
<rect x="693.00" y="684.00" width="5.00" height="12.00" fill="#e8315a" shape-rendering="crispEdges"/>
<rect x="699.00" y="673.00" width="5.00" height="12.00" fill="#e8315a" shape-rendering="crispEdges"/>
<rect x="706.00" y="673.00" width="5.00" height="5.00" fill="#1fa37a" shape-rendering="crispEdges"/>
<rect x="712.00" y="677.00" width="5.00" height="5.00" fill="#1fa37a" shape-rendering="crispEdges"/>
<rect x="718.00" y="671.00" width="5.00" height="11.00" fill="#e8315a" shape-rendering="crispEdges"/>
<rect x="725.00" y="660.00" width="5.00" height="12.00" fill="#e8315a" shape-rendering="crispEdges"/>
<rect x="731.00" y="649.00" width="5.00" height="12.00" fill="#e8315a" shape-rendering="crispEdges"/>
<rect x="737.00" y="638.00" width="5.00" height="12.00" fill="#e8315a" shape-rendering="crispEdges"/>
<rect x="743.00" y="628.00" width="5.00" height="11.00" fill="#e8315a" shape-rendering="crispEdges"/>
<rect x="750.00" y="617.00" width="5.00" height="12.00" fill="#e8315a" shape-rendering="crispEdges"/>
<rect x="756.00" y="606.00" width="5.00" height="12.00" fill="#e8315a" shape-rendering="crispEdges"/>
<polyline points="15.4,904.5 52.2,889.3 88.9,912.1 125.7,927.3 162.5,919.7 199.3,889.3 236.0,912.1 272.8,912.1 309.6,927.3 346.3,874.1 383.1,904.5 419.9,912.1 456.6,927.3 493.4,912.1 530.2,927.3 567.0,927.3 603.7,927.3 640.5,927.3 677.3,927.3 714.0,927.3 750.8,927.3" fill="none" stroke="#9a9a9a" stroke-width="1" stroke-linejoin="round" stroke-linecap="round"/>
<circle cx="15.4" cy="904.5" r="11.7" fill="#b218dc" stroke="#080000" stroke-width="1.1"/>
<circle cx="52.2" cy="889.3" r="11.7" fill="#ff0000" stroke="#080000" stroke-width="1.1"/>
<circle cx="88.9" cy="912.1" r="11.7" fill="#ff0000" stroke="#080000" stroke-width="1.1"/>
<circle cx="125.7" cy="927.3" r="11.7" fill="#ff0000" stroke="#080000" stroke-width="1.1"/>
<circle cx="162.5" cy="919.7" r="11.7" fill="#ff0000" stroke="#080000" stroke-width="1.1"/>
<circle cx="199.3" cy="889.3" r="11.7" fill="#ff0000" stroke="#080000" stroke-width="1.1"/>
<circle cx="236.0" cy="912.1" r="11.7" fill="#ff0000" stroke="#080000" stroke-width="1.1"/>
<circle cx="272.8" cy="912.1" r="11.7" fill="#ff0000" stroke="#080000" stroke-width="1.1"/>
<circle cx="309.6" cy="927.3" r="11.7" fill="#ff0000" stroke="#080000" stroke-width="1.1"/>
<circle cx="346.3" cy="874.1" r="11.7" fill="#ff0000" stroke="#080000" stroke-width="1.1"/>
<circle cx="383.1" cy="904.5" r="11.7" fill="#1f9e72" stroke="#080000" stroke-width="1.1"/>
<circle cx="419.9" cy="912.1" r="11.7" fill="#ff0000" stroke="#080000" stroke-width="1.1"/>
<circle cx="456.6" cy="927.3" r="11.7" fill="#ff0000" stroke="#080000" stroke-width="1.1"/>
<circle cx="493.4" cy="912.1" r="11.7" fill="#ff0000" stroke="#080000" stroke-width="1.1"/>
<circle cx="530.2" cy="927.3" r="11.7" fill="#ff0000" stroke="#080000" stroke-width="1.1"/>
<circle cx="567.0" cy="927.3" r="11.7" fill="#4a62ee" stroke="#080000" stroke-width="1.1"/>
<circle cx="603.7" cy="927.3" r="11.7" fill="#ff0000" stroke="#080000" stroke-width="1.1"/>
<circle cx="640.5" cy="927.3" r="11.7" fill="#ff0000" stroke="#080000" stroke-width="1.1"/>
<circle cx="677.3" cy="927.3" r="11.7" fill="#ff0000" stroke="#080000" stroke-width="1.1"/>
<circle cx="714.0" cy="927.3" r="11.7" fill="#ff0000" stroke="#080000" stroke-width="1.1"/>
<circle cx="750.8" cy="927.3" r="11.7" fill="#4a62ee" stroke="#080000" stroke-width="1.1"/>
<polyline points="15.5,907.0 751.5,907.0" fill="none" stroke="#ababab" stroke-width="2" stroke-linejoin="round" stroke-linecap="round"/>
<polyline points="15.4,910.5 52.0,909.2 90.0,912.9 130.0,914.0 160.0,914.2 200.0,911.0 227.9,910.3 278.5,909.6 380.0,906.5 456.0,910.3 531.9,911.3 607.9,915.9 683.9,917.2 709.2,922.2 751.5,924.8" fill="none" stroke="#1f9c6e" stroke-width="1.7" stroke-linejoin="round" stroke-linecap="round" stroke-opacity="0.65"/>
<polyline points="15.2,913.4 50.6,911.3 101.3,912.9 177.3,912.9 253.2,911.3 329.2,908.8 380.0,907.8 456.0,912.1 531.9,912.1 633.2,912.9 683.9,912.9 751.5,915.9" fill="none" stroke="#c030e0" stroke-width="1.1" stroke-linejoin="round" stroke-linecap="round"/>
<polyline points="15.2,914.6 50.6,908.3 101.3,906.5 134.2,906.5 162.0,909.6 200.0,907.8 227.9,911.3 265.9,912.1 308.9,912.1 346.9,903.2 390.0,907.0 430.6,907.8 481.3,906.5 506.6,909.6 531.9,916.7 569.9,921.0 607.9,924.8 658.5,926.0 683.9,927.3 751.5,927.3" fill="none" stroke="#3e5ce0" stroke-width="1.1" stroke-linejoin="round" stroke-linecap="round"/>
<text x="15.4" y="910.3" class="d" textLength="8" lengthAdjust="spacingAndGlyphs">3</text>
<text x="52.2" y="895.1" class="d" textLength="8" lengthAdjust="spacingAndGlyphs">5</text>
<text x="88.9" y="917.9" class="d" textLength="8" lengthAdjust="spacingAndGlyphs">2</text>
<text x="125.7" y="933.1" class="d" textLength="8" lengthAdjust="spacingAndGlyphs">0</text>
<text x="162.5" y="925.5" class="d" textLength="8" lengthAdjust="spacingAndGlyphs">1</text>
<text x="199.3" y="895.1" class="d" textLength="8" lengthAdjust="spacingAndGlyphs">5</text>
<text x="236.0" y="917.9" class="d" textLength="8" lengthAdjust="spacingAndGlyphs">2</text>
<text x="272.8" y="917.9" class="d" textLength="8" lengthAdjust="spacingAndGlyphs">2</text>
<text x="309.6" y="933.1" class="d" textLength="8" lengthAdjust="spacingAndGlyphs">0</text>
<text x="346.3" y="879.9" class="d" textLength="8" lengthAdjust="spacingAndGlyphs">7</text>
<text x="383.1" y="910.3" class="d" textLength="8" lengthAdjust="spacingAndGlyphs">3</text>
<text x="419.9" y="917.9" class="d" textLength="8" lengthAdjust="spacingAndGlyphs">2</text>
<text x="456.6" y="933.1" class="d" textLength="8" lengthAdjust="spacingAndGlyphs">0</text>
<text x="493.4" y="917.9" class="d" textLength="8" lengthAdjust="spacingAndGlyphs">2</text>
<text x="530.2" y="933.1" class="d" textLength="8" lengthAdjust="spacingAndGlyphs">0</text>
<text x="567.0" y="933.1" class="d" textLength="8" lengthAdjust="spacingAndGlyphs">0</text>
<text x="603.7" y="933.1" class="d" textLength="8" lengthAdjust="spacingAndGlyphs">0</text>
<text x="640.5" y="933.1" class="d" textLength="8" lengthAdjust="spacingAndGlyphs">0</text>
<text x="677.3" y="933.1" class="d" textLength="8" lengthAdjust="spacingAndGlyphs">0</text>
<text x="714.0" y="933.1" class="d" textLength="8" lengthAdjust="spacingAndGlyphs">0</text>
<text x="750.8" y="933.1" class="d" textLength="8" lengthAdjust="spacingAndGlyphs">0</text>
<rect x="2.00" y="1003.80" width="4.00" height="3.80" fill="#1fa37a"/>
<rect x="8.00" y="1003.80" width="4.00" height="2.80" fill="#1fa37a"/>
<rect x="15.00" y="1003.80" width="4.00" height="2.00" fill="#1fa37a"/>
<rect x="21.00" y="1003.80" width="4.00" height="2.00" fill="#1fa37a"/>
<rect x="27.00" y="1003.80" width="4.00" height="3.30" fill="#1fa37a"/>
<rect x="33.00" y="1003.80" width="4.00" height="3.80" fill="#1fa37a"/>
<rect x="40.00" y="1003.80" width="4.00" height="2.00" fill="#1fa37a"/>
<rect x="46.00" y="1002.00" width="4.00" height="1.80" fill="#e8315a"/>
<rect x="52.00" y="1000.80" width="4.00" height="3.00" fill="#e8315a"/>
<rect x="59.00" y="997.80" width="4.00" height="6.00" fill="#e8315a"/>
<rect x="65.00" y="997.00" width="4.00" height="6.80" fill="#e8315a"/>
<rect x="71.00" y="994.90" width="4.00" height="8.90" fill="#e8315a"/>
<rect x="77.00" y="991.90" width="4.00" height="11.90" fill="#e8315a"/>
<rect x="84.00" y="988.80" width="4.00" height="15.00" fill="#e8315a"/>
<rect x="90.00" y="985.60" width="4.00" height="18.20" fill="#e8315a"/>
<rect x="96.00" y="984.80" width="4.00" height="19.00" fill="#e8315a"/>
<rect x="103.00" y="986.80" width="4.00" height="17.00" fill="#e8315a"/>
<rect x="109.00" y="988.80" width="4.00" height="15.00" fill="#e8315a"/>
<rect x="115.00" y="989.90" width="4.00" height="13.90" fill="#e8315a"/>
<rect x="121.00" y="991.90" width="4.00" height="11.90" fill="#e8315a"/>
<rect x="128.00" y="991.90" width="4.00" height="11.90" fill="#e8315a"/>
<rect x="134.00" y="993.20" width="4.00" height="10.60" fill="#e8315a"/>
<rect x="140.00" y="996.20" width="4.00" height="7.60" fill="#e8315a"/>
<rect x="147.00" y="996.20" width="4.00" height="7.60" fill="#e8315a"/>
<rect x="153.00" y="997.80" width="4.00" height="6.00" fill="#e8315a"/>
<rect x="159.00" y="1000.00" width="4.00" height="3.80" fill="#e8315a"/>
<rect x="165.00" y="1002.00" width="4.00" height="1.80" fill="#e8315a"/>
<rect x="172.00" y="1003.80" width="4.00" height="2.00" fill="#1fa37a"/>
<rect x="178.00" y="1003.80" width="4.00" height="2.00" fill="#1fa37a"/>
<rect x="184.00" y="1003.80" width="4.00" height="3.30" fill="#1fa37a"/>
<rect x="190.00" y="1003.80" width="4.00" height="1.30" fill="#1fa37a"/>
<rect x="197.00" y="1003.80" width="4.00" height="1.30" fill="#1fa37a"/>
<rect x="203.00" y="1003.80" width="4.00" height="2.00" fill="#1fa37a"/>
<rect x="209.00" y="1003.80" width="4.00" height="1.30" fill="#1fa37a"/>
<rect x="216.00" y="1003.80" width="4.00" height="1.30" fill="#1fa37a"/>
<rect x="222.00" y="1003.20" width="4.00" height="0.60" fill="#e8315a"/>
<rect x="228.00" y="1003.20" width="4.00" height="0.60" fill="#e8315a"/>
<rect x="234.00" y="1001.30" width="4.00" height="2.50" fill="#e8315a"/>
<rect x="241.00" y="999.00" width="4.00" height="4.80" fill="#e8315a"/>
<rect x="247.00" y="998.20" width="4.00" height="5.60" fill="#e8315a"/>
<rect x="253.00" y="999.00" width="4.00" height="4.80" fill="#e8315a"/>
<rect x="260.00" y="998.20" width="4.00" height="5.60" fill="#e8315a"/>
<rect x="266.00" y="999.50" width="4.00" height="4.30" fill="#e8315a"/>
<rect x="272.00" y="1001.30" width="4.00" height="2.50" fill="#e8315a"/>
<rect x="278.00" y="1003.20" width="4.00" height="0.60" fill="#e8315a"/>
<rect x="285.00" y="1003.80" width="4.00" height="2.00" fill="#1fa37a"/>
<rect x="291.00" y="1003.80" width="4.00" height="5.30" fill="#1fa37a"/>
<rect x="297.00" y="1003.80" width="4.00" height="7.00" fill="#1fa37a"/>
<rect x="304.00" y="1003.80" width="4.00" height="9.60" fill="#1fa37a"/>
<rect x="310.00" y="1003.80" width="4.00" height="10.90" fill="#1fa37a"/>
<rect x="316.00" y="1003.80" width="4.00" height="7.80" fill="#1fa37a"/>
<rect x="322.00" y="1003.80" width="4.00" height="7.00" fill="#1fa37a"/>
<rect x="329.00" y="1003.80" width="4.00" height="5.30" fill="#1fa37a"/>
<rect x="335.00" y="1003.80" width="4.00" height="5.30" fill="#1fa37a"/>
<rect x="341.00" y="1003.80" width="4.00" height="6.30" fill="#1fa37a"/>
<rect x="348.00" y="1003.80" width="4.00" height="7.00" fill="#1fa37a"/>
<rect x="354.00" y="1003.80" width="4.00" height="4.60" fill="#1fa37a"/>
<rect x="360.00" y="1003.80" width="4.00" height="2.00" fill="#1fa37a"/>
<rect x="366.00" y="1001.30" width="4.00" height="2.50" fill="#e8315a"/>
<rect x="373.00" y="1000.00" width="4.00" height="3.80" fill="#e8315a"/>
<rect x="379.00" y="997.00" width="4.00" height="6.80" fill="#e8315a"/>
<rect x="385.00" y="994.90" width="4.00" height="8.90" fill="#e8315a"/>
<rect x="392.00" y="993.90" width="4.00" height="9.90" fill="#e8315a"/>
<rect x="398.00" y="994.90" width="4.00" height="8.90" fill="#e8315a"/>
<rect x="404.00" y="997.00" width="4.00" height="6.80" fill="#e8315a"/>
<rect x="410.00" y="999.00" width="4.00" height="4.80" fill="#e8315a"/>
<rect x="417.00" y="999.00" width="4.00" height="4.80" fill="#e8315a"/>
<rect x="423.00" y="1001.30" width="4.00" height="2.50" fill="#e8315a"/>
<rect x="429.00" y="1002.00" width="4.00" height="1.80" fill="#e8315a"/>
<rect x="436.00" y="1003.80" width="4.00" height="2.00" fill="#1fa37a"/>
<rect x="442.00" y="1003.80" width="4.00" height="1.30" fill="#1fa37a"/>
<rect x="448.00" y="1003.80" width="4.00" height="2.00" fill="#1fa37a"/>
<rect x="454.00" y="1003.80" width="4.00" height="3.30" fill="#1fa37a"/>
<rect x="461.00" y="1003.80" width="4.00" height="5.30" fill="#1fa37a"/>
<rect x="467.00" y="1003.80" width="4.00" height="6.30" fill="#1fa37a"/>
<rect x="473.00" y="1003.80" width="4.00" height="7.80" fill="#1fa37a"/>
<rect x="480.00" y="1003.80" width="4.00" height="7.00" fill="#1fa37a"/>
<rect x="486.00" y="1003.80" width="4.00" height="5.80" fill="#1fa37a"/>
<rect x="492.00" y="1003.80" width="4.00" height="7.00" fill="#1fa37a"/>
<rect x="498.00" y="1003.80" width="4.00" height="5.30" fill="#1fa37a"/>
<rect x="505.00" y="1003.80" width="4.00" height="2.00" fill="#1fa37a"/>
<rect x="511.00" y="1003.80" width="4.00" height="1.30" fill="#1fa37a"/>
<rect x="517.00" y="1001.30" width="4.00" height="2.50" fill="#e8315a"/>
<rect x="524.00" y="1000.00" width="4.00" height="3.80" fill="#e8315a"/>
<rect x="530.00" y="1001.30" width="4.00" height="2.50" fill="#e8315a"/>
<rect x="536.00" y="1002.00" width="4.00" height="1.80" fill="#e8315a"/>
<rect x="542.00" y="1003.80" width="4.00" height="1.30" fill="#1fa37a"/>
<rect x="549.00" y="1003.80" width="4.00" height="2.80" fill="#1fa37a"/>
<rect x="555.00" y="1003.80" width="4.00" height="2.00" fill="#1fa37a"/>
<rect x="561.00" y="1003.80" width="4.00" height="2.00" fill="#1fa37a"/>
<rect x="567.00" y="1003.80" width="4.00" height="2.80" fill="#1fa37a"/>
<rect x="574.00" y="1003.80" width="4.00" height="2.00" fill="#1fa37a"/>
<rect x="580.00" y="1003.80" width="4.00" height="2.00" fill="#1fa37a"/>
<rect x="586.00" y="1003.80" width="4.00" height="2.00" fill="#1fa37a"/>
<rect x="593.00" y="1003.80" width="4.00" height="1.30" fill="#1fa37a"/>
<rect x="599.00" y="1001.30" width="4.00" height="2.50" fill="#e8315a"/>
<rect x="605.00" y="1000.00" width="4.00" height="3.80" fill="#e8315a"/>
<rect x="611.00" y="1001.30" width="4.00" height="2.50" fill="#e8315a"/>
<rect x="618.00" y="1002.00" width="4.00" height="1.80" fill="#e8315a"/>
<rect x="624.00" y="1003.80" width="4.00" height="0.60" fill="#1fa37a"/>
<rect x="630.00" y="1003.80" width="4.00" height="2.00" fill="#1fa37a"/>
<rect x="637.00" y="1003.80" width="4.00" height="3.80" fill="#1fa37a"/>
<rect x="643.00" y="1003.80" width="4.00" height="5.80" fill="#1fa37a"/>
<rect x="649.00" y="1003.80" width="4.00" height="5.30" fill="#1fa37a"/>
<rect x="655.00" y="1003.80" width="4.00" height="5.30" fill="#1fa37a"/>
<rect x="662.00" y="1003.80" width="4.00" height="5.80" fill="#1fa37a"/>
<rect x="668.00" y="1003.80" width="4.00" height="6.30" fill="#1fa37a"/>
<rect x="674.00" y="1003.80" width="4.00" height="3.80" fill="#1fa37a"/>
<rect x="681.00" y="1003.80" width="4.00" height="3.80" fill="#1fa37a"/>
<rect x="687.00" y="1003.80" width="4.00" height="3.80" fill="#1fa37a"/>
<rect x="693.00" y="1003.80" width="4.00" height="2.00" fill="#1fa37a"/>
<rect x="699.00" y="1002.00" width="4.00" height="1.80" fill="#e8315a"/>
<rect x="706.00" y="1000.00" width="4.00" height="3.80" fill="#e8315a"/>
<rect x="712.00" y="1000.80" width="4.00" height="3.00" fill="#e8315a"/>
<rect x="718.00" y="998.20" width="4.00" height="5.60" fill="#e8315a"/>
<rect x="725.00" y="996.50" width="4.00" height="7.30" fill="#e8315a"/>
<rect x="731.00" y="993.20" width="4.00" height="10.60" fill="#e8315a"/>
<rect x="737.00" y="990.60" width="4.00" height="13.20" fill="#e8315a"/>
<rect x="743.00" y="987.30" width="4.00" height="16.50" fill="#e8315a"/>
<rect x="750.00" y="983.80" width="4.00" height="20.00" fill="#e8315a"/>
<rect x="756.00" y="981.80" width="4.00" height="22.00" fill="#e8315a"/>
<path d="M4.6,1012.6 C8.1,1013.0 17.6,1013.9 25.3,1014.7 C33.0,1015.5 42.1,1017.3 50.6,1017.2 C59.1,1017.1 67.5,1016.5 76.0,1014.2 C84.5,1011.9 92.9,1008.3 101.3,1003.3 C109.7,998.3 118.2,989.2 126.6,984.3 C135.0,979.4 143.4,976.1 151.9,974.1 C160.4,972.1 168.9,972.1 177.3,972.1 C185.8,972.1 194.2,973.6 202.6,974.1 C211.0,974.6 219.5,975.8 227.9,975.4 C236.3,975.0 244.8,972.6 253.2,971.6 C261.6,970.6 270.1,968.7 278.5,969.1 C286.9,969.5 295.4,971.8 303.9,974.1 C312.3,976.4 320.8,980.7 329.2,983.0 C337.6,985.3 346.1,987.7 354.5,988.1 C362.9,988.5 371.3,987.2 379.8,985.5 C388.3,983.8 396.8,979.6 405.3,977.9 C413.8,976.2 422.2,975.6 430.6,975.4 C439.1,975.2 447.6,975.4 456.0,976.7 C464.4,978.0 472.9,981.0 481.3,983.0 C489.7,985.0 498.2,987.9 506.6,988.8 C515.0,989.6 523.5,987.8 531.9,988.1 C540.3,988.4 548.8,990.1 557.3,990.6 C565.8,991.1 574.2,991.6 582.6,991.4 C591.0,991.2 599.5,989.2 607.9,989.3 C616.3,989.4 624.8,990.6 633.2,991.9 C641.6,993.2 650.0,995.4 658.5,996.9 C667.0,998.4 675.4,1000.5 683.9,1000.7 C692.4,1000.9 700.8,999.7 709.2,998.2 C717.6,996.7 726.3,995.5 734.5,991.9 C742.7,988.3 754.6,979.2 758.6,976.7" fill="none" stroke="#7f3e76" stroke-width="1.1" stroke-linejoin="round" stroke-linecap="round"/>
<path d="M4.6,1016.7 C6.4,1016.6 11.7,1015.8 15.2,1015.9 C18.6,1016.0 21.5,1016.5 25.3,1017.2 C29.1,1017.9 33.8,1020.2 38.0,1020.2 C42.2,1020.2 46.4,1018.8 50.6,1017.2 C54.8,1015.7 59.1,1013.0 63.3,1010.9 C67.5,1008.8 71.8,1008.1 76.0,1004.5 C80.2,1000.9 84.4,993.7 88.6,989.3 C92.8,984.9 97.1,980.2 101.3,977.9 C105.5,975.6 108.9,976.9 114.0,975.4 C119.1,973.9 125.4,970.0 131.7,968.6 C138.0,967.2 146.4,967.0 151.9,967.3 C157.4,967.6 160.4,969.1 164.6,970.3 C168.8,971.5 173.1,973.9 177.3,974.7 C181.5,975.6 185.7,975.1 189.9,975.4 C194.1,975.7 197.9,976.6 202.6,976.7 C207.2,976.8 213.6,976.4 217.8,976.2 C222.0,976.0 223.7,976.6 227.9,975.4 C232.1,974.2 238.9,970.4 243.1,969.1 C247.3,967.8 249.4,968.4 253.2,967.8 C257.0,967.2 261.7,965.3 265.9,965.3 C270.1,965.3 274.3,966.4 278.5,967.8 C282.7,969.2 287.0,971.3 291.2,973.6 C295.4,975.9 299.7,979.3 303.9,981.7 C308.1,984.1 312.3,986.9 316.5,988.1 C320.7,989.3 325.0,988.2 329.2,988.8 C333.4,989.4 337.7,991.2 341.9,991.9 C346.1,992.6 350.3,993.7 354.5,993.1 C358.7,992.5 363.0,990.0 367.2,988.1 C371.4,986.2 376.0,983.9 379.8,981.7 C383.6,979.5 386.7,976.4 390.1,974.7 C393.5,973.0 396.5,971.8 400.3,971.6 C404.1,971.4 408.7,973.4 412.9,973.6 C417.1,973.8 421.4,972.4 425.6,972.9 C429.8,973.4 434.0,975.9 438.2,976.7 C442.4,977.5 446.7,976.9 450.9,977.9 C455.1,978.9 459.4,981.0 463.6,983.0 C467.8,985.0 472.4,988.4 476.2,989.8 C480.0,991.2 483.0,990.6 486.4,991.4 C489.8,992.2 492.7,994.5 496.5,994.4 C500.3,994.3 504.9,992.0 509.1,990.6 C513.3,989.2 518.0,987.1 521.8,986.3 C525.6,985.4 528.1,985.2 531.9,985.5 C535.7,985.8 540.4,987.1 544.6,988.1 C548.8,989.1 552.6,990.6 557.3,991.4 C561.9,992.2 567.5,992.7 572.5,993.1 C577.5,993.5 582.6,994.7 587.6,993.9 C592.6,993.1 598.1,989.1 602.8,988.1 C607.4,987.1 611.3,987.7 615.5,988.1 C619.7,988.5 623.6,988.9 628.2,990.6 C632.9,992.3 638.8,996.7 643.4,998.2 C648.0,999.7 651.4,998.6 656.0,999.5 C660.6,1000.4 666.6,1002.5 671.2,1003.3 C675.9,1004.0 679.7,1004.0 683.9,1004.0 C688.1,1004.0 693.1,1004.0 696.5,1003.3 C699.9,1002.5 700.7,1000.6 704.1,999.5 C707.5,998.4 712.6,998.3 716.8,996.4 C721.0,994.5 725.2,991.8 729.4,988.1 C733.6,984.4 737.2,979.4 742.1,974.1 C747.0,968.8 755.9,959.4 758.6,956.4" fill="none" stroke="#c4a886" stroke-width="1.1" stroke-linejoin="round" stroke-linecap="round"/>
<rect x="1538.00" y="529.00" width="2.00" height="4.00" fill="#9a9a9a"/>
<rect x="1538.00" y="541.00" width="2.00" height="4.00" fill="#9a9a9a"/>
</svg></body></html>
